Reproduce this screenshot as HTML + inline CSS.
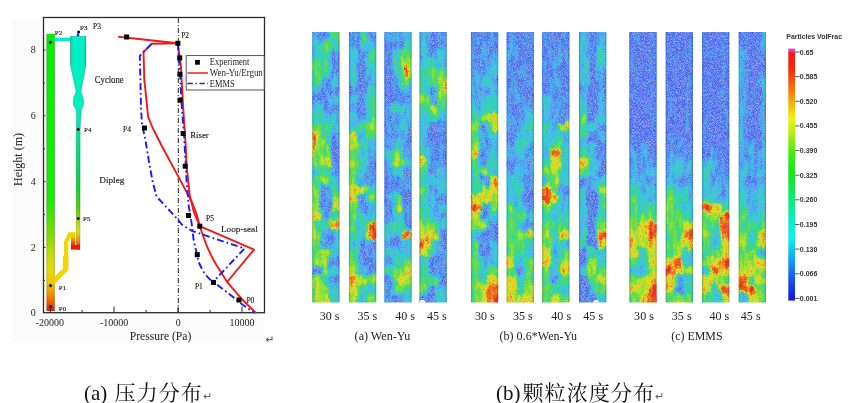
<!DOCTYPE html>
<html><head><meta charset="utf-8"><title>figure</title>
<style>
html,body{margin:0;padding:0;background:#fff;}
body{width:850px;height:403px;overflow:hidden;position:relative;}
svg{position:absolute;left:0;top:0;}
.cap{position:absolute;font-family:"Liberation Serif","Noto Serif CJK SC","Noto Sans CJK SC",serif;font-size:21px;color:#111;white-space:nowrap;line-height:1;}
.cj{letter-spacing:1.1px;margin-left:2px;}
.ret{font-family:"Liberation Sans",sans-serif;font-size:11px;color:#666;}
</style></head>
<body>
<svg width="850" height="403" viewBox="0 0 850 403">
<g id="plot">
<rect x="12" y="20" width="253" height="322" fill="#fbfbfb"/>
<rect x="43.5" y="17.5" width="221" height="295.2" fill="#fff"/>
<defs>
<linearGradient id="gRiser" x1="0" y1="34" x2="0" y2="311" gradientUnits="userSpaceOnUse">
<stop offset="0" stop-color="#00f000"/>
<stop offset="0.6" stop-color="#18ec00"/>
<stop offset="0.708" stop-color="#70dc00"/>
<stop offset="0.787" stop-color="#b8dc00"/>
<stop offset="0.856" stop-color="#e6dc00"/>
<stop offset="0.9" stop-color="#f0c400"/>
<stop offset="0.942" stop-color="#f08c00"/>
<stop offset="0.978" stop-color="#f04800"/>
<stop offset="1" stop-color="#e81800"/>
</linearGradient>
<linearGradient id="gEdgeH" x1="0" y1="0" x2="1" y2="0">
<stop offset="0" stop-color="#000" stop-opacity="0.3"/>
<stop offset="0.12" stop-color="#000" stop-opacity="0.05"/>
<stop offset="0.2" stop-color="#000" stop-opacity="0"/>
<stop offset="0.82" stop-color="#000" stop-opacity="0"/>
<stop offset="0.9" stop-color="#000" stop-opacity="0.06"/>
<stop offset="1" stop-color="#000" stop-opacity="0.3"/>
</linearGradient>
<linearGradient id="gDip" x1="0" y1="36" x2="0" y2="249.4" gradientUnits="userSpaceOnUse">
<stop offset="0" stop-color="#00f0c8"/>
<stop offset="0.347" stop-color="#00eec0"/>
<stop offset="0.44" stop-color="#00e4a4"/>
<stop offset="0.58" stop-color="#00d870"/>
<stop offset="0.72" stop-color="#08d830"/>
<stop offset="0.80" stop-color="#40d800"/>
<stop offset="0.85" stop-color="#80dc00"/>
<stop offset="0.89" stop-color="#c0dc00"/>
<stop offset="0.923" stop-color="#eadc00"/>
<stop offset="0.96" stop-color="#f09000"/>
<stop offset="0.984" stop-color="#f04000"/>
<stop offset="1" stop-color="#e81800"/>
</linearGradient>
<linearGradient id="gLeg" x1="0" y1="232" x2="0" y2="249.4" gradientUnits="userSpaceOnUse">
<stop offset="0" stop-color="#f4dc00"/>
<stop offset="0.35" stop-color="#f0b000"/>
<stop offset="0.7" stop-color="#f03a00"/>
<stop offset="1" stop-color="#e81400"/>
</linearGradient>
</defs>
<!-- apparatus -->
<rect x="46.6" y="34" width="8" height="277" fill="url(#gRiser)"/>
<rect x="46.6" y="34" width="8" height="277" fill="url(#gEdgeH)"/>
<rect x="54.4" y="37.6" width="16.2" height="3.5" fill="#00eec8"/>
<path d="M70.4 36.2 L86 36.2 L86 65.4 L81 91.5 C81.5 94 83.8 97 83.8 101.7 C83.8 106.5 81.6 108 81.4 110 L80.7 119 L80.2 129 L80 249.4 L76.2 249.4 L76.2 129 L76.5 119 L76.2 110 C75.8 108 73.1 106.5 73.1 101.7 C73.1 97 75.5 94 76 91.5 L70.4 65.4 Z" fill="url(#gDip)" stroke="#000" stroke-opacity="0.22" stroke-width="0.8"/>
<rect x="70.4" y="36.2" width="15.6" height="29" fill="url(#gEdgeH)" opacity="0.6"/>
<rect x="76.8" y="33.6" width="2.4" height="2.8" fill="#1030e0"/>
<!-- loop seal -->
<path d="M66.1 262 L66.1 242 L69.8 234.4 L73 234.4 L73 247" fill="none" stroke="#f2d600" stroke-width="4.2" stroke-linejoin="miter"/>
<rect x="71" y="236" width="4.1" height="13.4" fill="url(#gLeg)"/>
<rect x="71" y="245" width="9" height="4.4" fill="#ec1800"/>
<path d="M62.9 256 L68.4 256 L68.4 270 L54.4 284.4 L54.4 276.8 L62.9 268.4 Z" fill="#f2d600"/>
<!-- dots -->
<g fill="#000">
<circle cx="50.4" cy="42.3" r="1.55"/>
<circle cx="78.6" cy="32" r="1.55"/>
<circle cx="78.2" cy="129.5" r="1.45"/>
<circle cx="78.2" cy="218.6" r="1.45"/>
<circle cx="50.5" cy="285.6" r="1.55"/>
<circle cx="50.6" cy="306.5" r="1.55"/>
</g>
<!-- frame -->
<rect x="43.5" y="17.5" width="221" height="295.2" fill="none" stroke="#2a2a2a" stroke-width="1.3"/>
<!-- ticks -->
<g stroke="#2a2a2a" stroke-width="1">
<path d="M50.3 312.5 v-6 M114 312.5 v-6 M178 312.5 v-6 M242 312.5 v-6 M82.1 312.5 v-2.5 M146.1 312.5 v-2.5 M210.1 312.5 v-2.5"/>
<path d="M43.5 50 h2 M43.5 115.8 h2 M43.5 181.6 h2 M43.5 247.4 h2 M43.5 83 h1.5 M43.5 148.8 h1.5 M43.5 214.6 h1.5 M43.5 280.3 h1.5"/>
</g>
<!-- zero dash-dot -->
<line x1="178.3" y1="18" x2="178.3" y2="312" stroke="#222" stroke-width="1" stroke-dasharray="5 2 1 2"/>
<!-- red model -->
<g fill="none" stroke="#f41818" stroke-width="1.9" stroke-linejoin="round">
<path d="M118.2 36.8 L177.8 43.3"/>
<path d="M177.8 43.3 L151.7 43.8 L143.5 52 L144.3 80 L145.4 90 L146.9 104.9 L148.1 116.8 L152.5 127.5 L161.3 145 L177.8 175.6 L191.9 202 L196.5 214 L199.8 226.2 L254 249.6 L227.1 282"/>
<path d="M177.8 43.3 L180.9 66 L183 105 L185.6 144.2 L186.6 166 L189.8 195.6 L194 212.5 L199.8 226.2 C203 236 206 245 209.7 252.2 C213 260 217 266 220.9 272 L227.1 281.9 L242 299.3 L256 313"/>
</g>
<!-- blue model -->
<g fill="none" stroke="#1a1aff" stroke-width="1.9" stroke-dasharray="7 3 1.7 3" stroke-linejoin="round">
<path d="M151.5 43.8 L139.8 55.8 L140.4 80 L141 108 L142 124 L145.4 140 L149.1 162.3 L152.3 180 L156.5 196.5 L178.5 220.2 L181.9 224.7 L192.4 231.1 L244.5 248.5 L213.5 281.5"/>
<path d="M177.8 43.3 L179.5 66 L181.7 105 L184.3 139 L186.6 180.9 L188.8 206.2 L191.9 225.2 L193.6 239.8 L198.6 262 C203 272 208 279 213.5 281.9 L229.6 294.3 L242 304.2 L254.3 313"/>
</g>
<!-- experiment squares -->
<g fill="#000">
<rect x="124.1" y="34.5" width="5" height="5"/>
<rect x="175.4" y="40.8" width="5" height="5"/>
<rect x="177.2" y="55.4" width="5" height="5"/>
<rect x="177.4" y="71.7" width="5" height="5"/>
<rect x="177.6" y="97.6" width="5" height="5"/>
<rect x="180.6" y="131" width="5" height="5"/>
<rect x="142" y="125.5" width="5" height="5"/>
<rect x="182.7" y="163.7" width="5" height="5"/>
<rect x="186" y="213" width="5" height="5"/>
<rect x="197.3" y="223.7" width="5" height="5"/>
<rect x="194.8" y="252.2" width="5" height="5"/>
<rect x="211" y="279.9" width="5" height="5"/>
<rect x="236.5" y="297.5" width="5" height="5"/>
</g>
<!-- legend -->
<rect x="186.2" y="55.6" width="78" height="34.4" fill="#fff" stroke="#444" stroke-width="0.9"/>
<rect x="195.1" y="59.9" width="4.8" height="4.8" fill="#000"/>
<line x1="187.4" y1="73" x2="207.9" y2="73" stroke="#f01c1c" stroke-width="1.5"/>
<line x1="187.4" y1="83.5" x2="208" y2="83.5" stroke="#1c28f0" stroke-width="1.5" stroke-dasharray="5.5 2.5 1.5 2.5"/>
<g font-family="Liberation Serif, serif" fill="#222">
<text x="209.8" y="65.2" font-size="9.6" textLength="39.7" lengthAdjust="spacingAndGlyphs">Experiment</text>
<text x="209.8" y="76.2" font-size="9.6" textLength="53" lengthAdjust="spacingAndGlyphs">Wen-Yu/Ergun</text>
<text x="209.8" y="86.8" font-size="9.6" textLength="24.8" lengthAdjust="spacingAndGlyphs">EMMS</text>
</g>
<!-- labels in plot -->
<g font-family="Liberation Serif, serif" fill="#222" stroke="#222" stroke-width="0.15">
<text x="54.8" y="34.6" font-size="7">P2</text>
<text x="80" y="29.9" font-size="7">P3</text>
<text x="93" y="28.9" font-size="7.5">P3</text>
<text x="181.2" y="38.2" font-size="7.5">P2</text>
<text x="94.8" y="83.2" font-size="9.6" textLength="28.8" lengthAdjust="spacingAndGlyphs">Cyclone</text>
<text x="84" y="132.1" font-size="7">P4</text>
<text x="123" y="131.5" font-size="7.5">P4</text>
<text x="190.2" y="138.1" font-size="9.2" textLength="18.6" lengthAdjust="spacingAndGlyphs">Riser</text>
<text x="99.3" y="183" font-size="9.2">Dipleg</text>
<text x="83" y="221.2" font-size="7">P5</text>
<text x="206" y="221" font-size="7.5">P5</text>
<text x="221" y="232.3" font-size="9.2">Loop-seal</text>
<text x="58.8" y="290" font-size="7">P1</text>
<text x="194.9" y="289.4" font-size="7.5">P1</text>
<text x="58.8" y="311" font-size="7">P0</text>
<text x="246.4" y="303" font-size="7.5">P0</text>
</g>
<!-- axis labels -->
<g font-family="Liberation Serif, serif" fill="#222" font-size="10">
<text x="33.2" y="316" text-anchor="middle">0</text>
<text x="33.2" y="250.6" text-anchor="middle">2</text>
<text x="33.2" y="184.8" text-anchor="middle">4</text>
<text x="33.2" y="119" text-anchor="middle">6</text>
<text x="33.2" y="53.2" text-anchor="middle">8</text>
<text x="49.8" y="325.6" text-anchor="middle">-20000</text>
<text x="114.2" y="325.6" text-anchor="middle">-10000</text>
<text x="178.2" y="325.6" text-anchor="middle">0</text>
<text x="242" y="325.6" text-anchor="middle">10000</text>
<text x="160.5" y="339.6" text-anchor="middle" font-size="11.6">Pressure (Pa)</text>
<text transform="translate(22 159.5) rotate(-90)" text-anchor="middle" font-size="12">Height (m)</text>
</g>
<text x="265.6" y="342.6" font-family="DejaVu Sans, sans-serif" font-size="10.5" font-weight="bold" fill="#666">↵</text>
</g>

<defs>
<filter id="nb" x="-50%" y="-50%" width="200%" height="200%"><feGaussianBlur stdDeviation="0.7"/></filter>
<clipPath id="sc"><rect width="27.4" height="270.5"/></clipPath>
<linearGradient id="edg" x1="0" y1="0" x2="1" y2="0"><stop offset="0" stop-color="#102070" stop-opacity="0.3"/><stop offset="0.07" stop-color="#102070" stop-opacity="0"/><stop offset="0.93" stop-color="#102070" stop-opacity="0"/><stop offset="1" stop-color="#102070" stop-opacity="0.3"/></linearGradient>
<filter id="cf0" x="-40%" y="-4%" width="180%" height="108%" color-interpolation-filters="sRGB">
<feGaussianBlur in="SourceGraphic" stdDeviation="1.6" result="b0"/>
<feTurbulence type="fractalNoise" baseFrequency="0.14 0.05" numOctaves="2" seed="11" result="t"/>
<feDisplacementMap in="b0" in2="t" scale="10" xChannelSelector="R" yChannelSelector="G" result="d"/>
<feTurbulence type="fractalNoise" baseFrequency="0.5" numOctaves="1" seed="16" result="t2"/>
<feDisplacementMap in="d" in2="t2" scale="4" xChannelSelector="G" yChannelSelector="R" result="d2"/>
<feTurbulence type="fractalNoise" baseFrequency="0.7" numOctaves="1" seed="20" result="t3"/>
<feColorMatrix in="t3" type="matrix" values="1 0 0 0 0  1 0 0 0 0  1 0 0 0 0  0 0 0 0 1" result="n"/>
<feTurbulence type="fractalNoise" baseFrequency="0.25 0.07" numOctaves="2" seed="28" result="t5"/>
<feColorMatrix in="t5" type="matrix" values="1 0 0 0 0  1 0 0 0 0  1 0 0 0 0  0 0 0 0 1" result="n5"/>
<feComposite in="d2" in2="n" operator="arithmetic" k1="0" k2="1" k3="0.22" k4="-0.11" result="f0"/>
<feComposite in="f0" in2="n5" operator="arithmetic" k1="0" k2="1" k3="0.38" k4="-0.19" result="f"/>
<feGaussianBlur in="f" stdDeviation="0.35" result="fb"/>
<feComponentTransfer in="fb" result="col">
<feFuncR type="table" tableValues="0.306 0.243 0.243 0.204 0.204 0.353 0.647 0.910 0.941 0.910 0.886"/>
<feFuncG type="table" tableValues="0.384 0.416 0.627 0.784 0.831 0.863 0.886 0.863 0.490 0.243 0.165"/>
<feFuncB type="table" tableValues="0.925 0.925 0.925 0.886 0.647 0.333 0.188 0.157 0.137 0.137 0.137"/>
<feFuncA type="linear" slope="0" intercept="1"/>
</feComponentTransfer>
<feTurbulence type="fractalNoise" baseFrequency="1.45" numOctaves="1" seed="24" result="t4"/>
<feColorMatrix in="t4" type="matrix" values="0 0 0 0 0.66  0 0 0 0 0.72  0 0 0 0 0.96  2.5 0 0 0 -0.95" result="sp0"/>
<feGaussianBlur in="sp0" stdDeviation="0.5" result="sp"/>
<feColorMatrix in="f" type="matrix" values="0 0 0 0 0  0 0 0 0 0  0 0 0 0 0  -3.2 0 0 0 1.3" result="am"/>
<feComposite in="sp" in2="am" operator="in" result="spm"/>
<feMerge result="mg"><feMergeNode in="col"/><feMergeNode in="spm"/></feMerge>
<feGaussianBlur in="mg" stdDeviation="0.4"/>
</filter>
<filter id="cf1" x="-40%" y="-4%" width="180%" height="108%" color-interpolation-filters="sRGB">
<feGaussianBlur in="SourceGraphic" stdDeviation="1.6" result="b0"/>
<feTurbulence type="fractalNoise" baseFrequency="0.14 0.05" numOctaves="2" seed="23" result="t"/>
<feDisplacementMap in="b0" in2="t" scale="10" xChannelSelector="R" yChannelSelector="G" result="d"/>
<feTurbulence type="fractalNoise" baseFrequency="0.5" numOctaves="1" seed="28" result="t2"/>
<feDisplacementMap in="d" in2="t2" scale="4" xChannelSelector="G" yChannelSelector="R" result="d2"/>
<feTurbulence type="fractalNoise" baseFrequency="0.7" numOctaves="1" seed="32" result="t3"/>
<feColorMatrix in="t3" type="matrix" values="1 0 0 0 0  1 0 0 0 0  1 0 0 0 0  0 0 0 0 1" result="n"/>
<feTurbulence type="fractalNoise" baseFrequency="0.25 0.07" numOctaves="2" seed="40" result="t5"/>
<feColorMatrix in="t5" type="matrix" values="1 0 0 0 0  1 0 0 0 0  1 0 0 0 0  0 0 0 0 1" result="n5"/>
<feComposite in="d2" in2="n" operator="arithmetic" k1="0" k2="1" k3="0.22" k4="-0.11" result="f0"/>
<feComposite in="f0" in2="n5" operator="arithmetic" k1="0" k2="1" k3="0.38" k4="-0.19" result="f"/>
<feGaussianBlur in="f" stdDeviation="0.35" result="fb"/>
<feComponentTransfer in="fb" result="col">
<feFuncR type="table" tableValues="0.306 0.243 0.243 0.204 0.204 0.353 0.647 0.910 0.941 0.910 0.886"/>
<feFuncG type="table" tableValues="0.384 0.416 0.627 0.784 0.831 0.863 0.886 0.863 0.490 0.243 0.165"/>
<feFuncB type="table" tableValues="0.925 0.925 0.925 0.886 0.647 0.333 0.188 0.157 0.137 0.137 0.137"/>
<feFuncA type="linear" slope="0" intercept="1"/>
</feComponentTransfer>
<feTurbulence type="fractalNoise" baseFrequency="1.45" numOctaves="1" seed="36" result="t4"/>
<feColorMatrix in="t4" type="matrix" values="0 0 0 0 0.66  0 0 0 0 0.72  0 0 0 0 0.96  2.5 0 0 0 -0.95" result="sp0"/>
<feGaussianBlur in="sp0" stdDeviation="0.5" result="sp"/>
<feColorMatrix in="f" type="matrix" values="0 0 0 0 0  0 0 0 0 0  0 0 0 0 0  -3.2 0 0 0 1.3" result="am"/>
<feComposite in="sp" in2="am" operator="in" result="spm"/>
<feMerge result="mg"><feMergeNode in="col"/><feMergeNode in="spm"/></feMerge>
<feGaussianBlur in="mg" stdDeviation="0.4"/>
</filter>
<filter id="cf2" x="-40%" y="-4%" width="180%" height="108%" color-interpolation-filters="sRGB">
<feGaussianBlur in="SourceGraphic" stdDeviation="1.6" result="b0"/>
<feTurbulence type="fractalNoise" baseFrequency="0.14 0.05" numOctaves="2" seed="37" result="t"/>
<feDisplacementMap in="b0" in2="t" scale="10" xChannelSelector="R" yChannelSelector="G" result="d"/>
<feTurbulence type="fractalNoise" baseFrequency="0.5" numOctaves="1" seed="42" result="t2"/>
<feDisplacementMap in="d" in2="t2" scale="4" xChannelSelector="G" yChannelSelector="R" result="d2"/>
<feTurbulence type="fractalNoise" baseFrequency="0.7" numOctaves="1" seed="46" result="t3"/>
<feColorMatrix in="t3" type="matrix" values="1 0 0 0 0  1 0 0 0 0  1 0 0 0 0  0 0 0 0 1" result="n"/>
<feTurbulence type="fractalNoise" baseFrequency="0.25 0.07" numOctaves="2" seed="54" result="t5"/>
<feColorMatrix in="t5" type="matrix" values="1 0 0 0 0  1 0 0 0 0  1 0 0 0 0  0 0 0 0 1" result="n5"/>
<feComposite in="d2" in2="n" operator="arithmetic" k1="0" k2="1" k3="0.22" k4="-0.11" result="f0"/>
<feComposite in="f0" in2="n5" operator="arithmetic" k1="0" k2="1" k3="0.38" k4="-0.19" result="f"/>
<feGaussianBlur in="f" stdDeviation="0.35" result="fb"/>
<feComponentTransfer in="fb" result="col">
<feFuncR type="table" tableValues="0.306 0.243 0.243 0.204 0.204 0.353 0.647 0.910 0.941 0.910 0.886"/>
<feFuncG type="table" tableValues="0.384 0.416 0.627 0.784 0.831 0.863 0.886 0.863 0.490 0.243 0.165"/>
<feFuncB type="table" tableValues="0.925 0.925 0.925 0.886 0.647 0.333 0.188 0.157 0.137 0.137 0.137"/>
<feFuncA type="linear" slope="0" intercept="1"/>
</feComponentTransfer>
<feTurbulence type="fractalNoise" baseFrequency="1.45" numOctaves="1" seed="50" result="t4"/>
<feColorMatrix in="t4" type="matrix" values="0 0 0 0 0.66  0 0 0 0 0.72  0 0 0 0 0.96  2.5 0 0 0 -0.95" result="sp0"/>
<feGaussianBlur in="sp0" stdDeviation="0.5" result="sp"/>
<feColorMatrix in="f" type="matrix" values="0 0 0 0 0  0 0 0 0 0  0 0 0 0 0  -3.2 0 0 0 1.3" result="am"/>
<feComposite in="sp" in2="am" operator="in" result="spm"/>
<feMerge result="mg"><feMergeNode in="col"/><feMergeNode in="spm"/></feMerge>
<feGaussianBlur in="mg" stdDeviation="0.4"/>
</filter>
<filter id="cf3" x="-40%" y="-4%" width="180%" height="108%" color-interpolation-filters="sRGB">
<feGaussianBlur in="SourceGraphic" stdDeviation="1.6" result="b0"/>
<feTurbulence type="fractalNoise" baseFrequency="0.14 0.05" numOctaves="2" seed="41" result="t"/>
<feDisplacementMap in="b0" in2="t" scale="10" xChannelSelector="R" yChannelSelector="G" result="d"/>
<feTurbulence type="fractalNoise" baseFrequency="0.5" numOctaves="1" seed="46" result="t2"/>
<feDisplacementMap in="d" in2="t2" scale="4" xChannelSelector="G" yChannelSelector="R" result="d2"/>
<feTurbulence type="fractalNoise" baseFrequency="0.7" numOctaves="1" seed="50" result="t3"/>
<feColorMatrix in="t3" type="matrix" values="1 0 0 0 0  1 0 0 0 0  1 0 0 0 0  0 0 0 0 1" result="n"/>
<feTurbulence type="fractalNoise" baseFrequency="0.25 0.07" numOctaves="2" seed="58" result="t5"/>
<feColorMatrix in="t5" type="matrix" values="1 0 0 0 0  1 0 0 0 0  1 0 0 0 0  0 0 0 0 1" result="n5"/>
<feComposite in="d2" in2="n" operator="arithmetic" k1="0" k2="1" k3="0.22" k4="-0.11" result="f0"/>
<feComposite in="f0" in2="n5" operator="arithmetic" k1="0" k2="1" k3="0.38" k4="-0.19" result="f"/>
<feGaussianBlur in="f" stdDeviation="0.35" result="fb"/>
<feComponentTransfer in="fb" result="col">
<feFuncR type="table" tableValues="0.306 0.243 0.243 0.204 0.204 0.353 0.647 0.910 0.941 0.910 0.886"/>
<feFuncG type="table" tableValues="0.384 0.416 0.627 0.784 0.831 0.863 0.886 0.863 0.490 0.243 0.165"/>
<feFuncB type="table" tableValues="0.925 0.925 0.925 0.886 0.647 0.333 0.188 0.157 0.137 0.137 0.137"/>
<feFuncA type="linear" slope="0" intercept="1"/>
</feComponentTransfer>
<feTurbulence type="fractalNoise" baseFrequency="1.45" numOctaves="1" seed="54" result="t4"/>
<feColorMatrix in="t4" type="matrix" values="0 0 0 0 0.66  0 0 0 0 0.72  0 0 0 0 0.96  2.5 0 0 0 -0.95" result="sp0"/>
<feGaussianBlur in="sp0" stdDeviation="0.5" result="sp"/>
<feColorMatrix in="f" type="matrix" values="0 0 0 0 0  0 0 0 0 0  0 0 0 0 0  -3.2 0 0 0 1.3" result="am"/>
<feComposite in="sp" in2="am" operator="in" result="spm"/>
<feMerge result="mg"><feMergeNode in="col"/><feMergeNode in="spm"/></feMerge>
<feGaussianBlur in="mg" stdDeviation="0.4"/>
</filter>
<filter id="cf4" x="-40%" y="-4%" width="180%" height="108%" color-interpolation-filters="sRGB">
<feGaussianBlur in="SourceGraphic" stdDeviation="1.6" result="b0"/>
<feTurbulence type="fractalNoise" baseFrequency="0.14 0.05" numOctaves="2" seed="53" result="t"/>
<feDisplacementMap in="b0" in2="t" scale="10" xChannelSelector="R" yChannelSelector="G" result="d"/>
<feTurbulence type="fractalNoise" baseFrequency="0.5" numOctaves="1" seed="58" result="t2"/>
<feDisplacementMap in="d" in2="t2" scale="4" xChannelSelector="G" yChannelSelector="R" result="d2"/>
<feTurbulence type="fractalNoise" baseFrequency="0.7" numOctaves="1" seed="62" result="t3"/>
<feColorMatrix in="t3" type="matrix" values="1 0 0 0 0  1 0 0 0 0  1 0 0 0 0  0 0 0 0 1" result="n"/>
<feTurbulence type="fractalNoise" baseFrequency="0.25 0.07" numOctaves="2" seed="70" result="t5"/>
<feColorMatrix in="t5" type="matrix" values="1 0 0 0 0  1 0 0 0 0  1 0 0 0 0  0 0 0 0 1" result="n5"/>
<feComposite in="d2" in2="n" operator="arithmetic" k1="0" k2="1" k3="0.22" k4="-0.11" result="f0"/>
<feComposite in="f0" in2="n5" operator="arithmetic" k1="0" k2="1" k3="0.38" k4="-0.19" result="f"/>
<feGaussianBlur in="f" stdDeviation="0.35" result="fb"/>
<feComponentTransfer in="fb" result="col">
<feFuncR type="table" tableValues="0.306 0.243 0.243 0.204 0.204 0.353 0.647 0.910 0.941 0.910 0.886"/>
<feFuncG type="table" tableValues="0.384 0.416 0.627 0.784 0.831 0.863 0.886 0.863 0.490 0.243 0.165"/>
<feFuncB type="table" tableValues="0.925 0.925 0.925 0.886 0.647 0.333 0.188 0.157 0.137 0.137 0.137"/>
<feFuncA type="linear" slope="0" intercept="1"/>
</feComponentTransfer>
<feTurbulence type="fractalNoise" baseFrequency="1.45" numOctaves="1" seed="66" result="t4"/>
<feColorMatrix in="t4" type="matrix" values="0 0 0 0 0.66  0 0 0 0 0.72  0 0 0 0 0.96  2.5 0 0 0 -0.95" result="sp0"/>
<feGaussianBlur in="sp0" stdDeviation="0.5" result="sp"/>
<feColorMatrix in="f" type="matrix" values="0 0 0 0 0  0 0 0 0 0  0 0 0 0 0  -3.2 0 0 0 1.3" result="am"/>
<feComposite in="sp" in2="am" operator="in" result="spm"/>
<feMerge result="mg"><feMergeNode in="col"/><feMergeNode in="spm"/></feMerge>
<feGaussianBlur in="mg" stdDeviation="0.4"/>
</filter>
<filter id="cf5" x="-40%" y="-4%" width="180%" height="108%" color-interpolation-filters="sRGB">
<feGaussianBlur in="SourceGraphic" stdDeviation="1.6" result="b0"/>
<feTurbulence type="fractalNoise" baseFrequency="0.14 0.05" numOctaves="2" seed="67" result="t"/>
<feDisplacementMap in="b0" in2="t" scale="10" xChannelSelector="R" yChannelSelector="G" result="d"/>
<feTurbulence type="fractalNoise" baseFrequency="0.5" numOctaves="1" seed="72" result="t2"/>
<feDisplacementMap in="d" in2="t2" scale="4" xChannelSelector="G" yChannelSelector="R" result="d2"/>
<feTurbulence type="fractalNoise" baseFrequency="0.7" numOctaves="1" seed="76" result="t3"/>
<feColorMatrix in="t3" type="matrix" values="1 0 0 0 0  1 0 0 0 0  1 0 0 0 0  0 0 0 0 1" result="n"/>
<feTurbulence type="fractalNoise" baseFrequency="0.25 0.07" numOctaves="2" seed="84" result="t5"/>
<feColorMatrix in="t5" type="matrix" values="1 0 0 0 0  1 0 0 0 0  1 0 0 0 0  0 0 0 0 1" result="n5"/>
<feComposite in="d2" in2="n" operator="arithmetic" k1="0" k2="1" k3="0.22" k4="-0.11" result="f0"/>
<feComposite in="f0" in2="n5" operator="arithmetic" k1="0" k2="1" k3="0.38" k4="-0.19" result="f"/>
<feGaussianBlur in="f" stdDeviation="0.35" result="fb"/>
<feComponentTransfer in="fb" result="col">
<feFuncR type="table" tableValues="0.306 0.243 0.243 0.204 0.204 0.353 0.647 0.910 0.941 0.910 0.886"/>
<feFuncG type="table" tableValues="0.384 0.416 0.627 0.784 0.831 0.863 0.886 0.863 0.490 0.243 0.165"/>
<feFuncB type="table" tableValues="0.925 0.925 0.925 0.886 0.647 0.333 0.188 0.157 0.137 0.137 0.137"/>
<feFuncA type="linear" slope="0" intercept="1"/>
</feComponentTransfer>
<feTurbulence type="fractalNoise" baseFrequency="1.45" numOctaves="1" seed="80" result="t4"/>
<feColorMatrix in="t4" type="matrix" values="0 0 0 0 0.66  0 0 0 0 0.72  0 0 0 0 0.96  2.5 0 0 0 -0.95" result="sp0"/>
<feGaussianBlur in="sp0" stdDeviation="0.5" result="sp"/>
<feColorMatrix in="f" type="matrix" values="0 0 0 0 0  0 0 0 0 0  0 0 0 0 0  -3.2 0 0 0 1.3" result="am"/>
<feComposite in="sp" in2="am" operator="in" result="spm"/>
<feMerge result="mg"><feMergeNode in="col"/><feMergeNode in="spm"/></feMerge>
<feGaussianBlur in="mg" stdDeviation="0.4"/>
</filter>
<filter id="cf6" x="-40%" y="-4%" width="180%" height="108%" color-interpolation-filters="sRGB">
<feGaussianBlur in="SourceGraphic" stdDeviation="1.6" result="b0"/>
<feTurbulence type="fractalNoise" baseFrequency="0.14 0.05" numOctaves="2" seed="71" result="t"/>
<feDisplacementMap in="b0" in2="t" scale="10" xChannelSelector="R" yChannelSelector="G" result="d"/>
<feTurbulence type="fractalNoise" baseFrequency="0.5" numOctaves="1" seed="76" result="t2"/>
<feDisplacementMap in="d" in2="t2" scale="4" xChannelSelector="G" yChannelSelector="R" result="d2"/>
<feTurbulence type="fractalNoise" baseFrequency="0.7" numOctaves="1" seed="80" result="t3"/>
<feColorMatrix in="t3" type="matrix" values="1 0 0 0 0  1 0 0 0 0  1 0 0 0 0  0 0 0 0 1" result="n"/>
<feTurbulence type="fractalNoise" baseFrequency="0.25 0.07" numOctaves="2" seed="88" result="t5"/>
<feColorMatrix in="t5" type="matrix" values="1 0 0 0 0  1 0 0 0 0  1 0 0 0 0  0 0 0 0 1" result="n5"/>
<feComposite in="d2" in2="n" operator="arithmetic" k1="0" k2="1" k3="0.22" k4="-0.11" result="f0"/>
<feComposite in="f0" in2="n5" operator="arithmetic" k1="0" k2="1" k3="0.38" k4="-0.19" result="f"/>
<feGaussianBlur in="f" stdDeviation="0.35" result="fb"/>
<feComponentTransfer in="fb" result="col">
<feFuncR type="table" tableValues="0.306 0.243 0.243 0.204 0.204 0.353 0.647 0.910 0.941 0.910 0.886"/>
<feFuncG type="table" tableValues="0.384 0.416 0.627 0.784 0.831 0.863 0.886 0.863 0.490 0.243 0.165"/>
<feFuncB type="table" tableValues="0.925 0.925 0.925 0.886 0.647 0.333 0.188 0.157 0.137 0.137 0.137"/>
<feFuncA type="linear" slope="0" intercept="1"/>
</feComponentTransfer>
<feTurbulence type="fractalNoise" baseFrequency="1.45" numOctaves="1" seed="84" result="t4"/>
<feColorMatrix in="t4" type="matrix" values="0 0 0 0 0.66  0 0 0 0 0.72  0 0 0 0 0.96  2.5 0 0 0 -0.95" result="sp0"/>
<feGaussianBlur in="sp0" stdDeviation="0.5" result="sp"/>
<feColorMatrix in="f" type="matrix" values="0 0 0 0 0  0 0 0 0 0  0 0 0 0 0  -3.2 0 0 0 1.3" result="am"/>
<feComposite in="sp" in2="am" operator="in" result="spm"/>
<feMerge result="mg"><feMergeNode in="col"/><feMergeNode in="spm"/></feMerge>
<feGaussianBlur in="mg" stdDeviation="0.4"/>
</filter>
<filter id="cf7" x="-40%" y="-4%" width="180%" height="108%" color-interpolation-filters="sRGB">
<feGaussianBlur in="SourceGraphic" stdDeviation="1.6" result="b0"/>
<feTurbulence type="fractalNoise" baseFrequency="0.14 0.05" numOctaves="2" seed="83" result="t"/>
<feDisplacementMap in="b0" in2="t" scale="10" xChannelSelector="R" yChannelSelector="G" result="d"/>
<feTurbulence type="fractalNoise" baseFrequency="0.5" numOctaves="1" seed="88" result="t2"/>
<feDisplacementMap in="d" in2="t2" scale="4" xChannelSelector="G" yChannelSelector="R" result="d2"/>
<feTurbulence type="fractalNoise" baseFrequency="0.7" numOctaves="1" seed="92" result="t3"/>
<feColorMatrix in="t3" type="matrix" values="1 0 0 0 0  1 0 0 0 0  1 0 0 0 0  0 0 0 0 1" result="n"/>
<feTurbulence type="fractalNoise" baseFrequency="0.25 0.07" numOctaves="2" seed="100" result="t5"/>
<feColorMatrix in="t5" type="matrix" values="1 0 0 0 0  1 0 0 0 0  1 0 0 0 0  0 0 0 0 1" result="n5"/>
<feComposite in="d2" in2="n" operator="arithmetic" k1="0" k2="1" k3="0.22" k4="-0.11" result="f0"/>
<feComposite in="f0" in2="n5" operator="arithmetic" k1="0" k2="1" k3="0.38" k4="-0.19" result="f"/>
<feGaussianBlur in="f" stdDeviation="0.35" result="fb"/>
<feComponentTransfer in="fb" result="col">
<feFuncR type="table" tableValues="0.306 0.243 0.243 0.204 0.204 0.353 0.647 0.910 0.941 0.910 0.886"/>
<feFuncG type="table" tableValues="0.384 0.416 0.627 0.784 0.831 0.863 0.886 0.863 0.490 0.243 0.165"/>
<feFuncB type="table" tableValues="0.925 0.925 0.925 0.886 0.647 0.333 0.188 0.157 0.137 0.137 0.137"/>
<feFuncA type="linear" slope="0" intercept="1"/>
</feComponentTransfer>
<feTurbulence type="fractalNoise" baseFrequency="1.45" numOctaves="1" seed="96" result="t4"/>
<feColorMatrix in="t4" type="matrix" values="0 0 0 0 0.66  0 0 0 0 0.72  0 0 0 0 0.96  2.5 0 0 0 -0.95" result="sp0"/>
<feGaussianBlur in="sp0" stdDeviation="0.5" result="sp"/>
<feColorMatrix in="f" type="matrix" values="0 0 0 0 0  0 0 0 0 0  0 0 0 0 0  -3.2 0 0 0 1.3" result="am"/>
<feComposite in="sp" in2="am" operator="in" result="spm"/>
<feMerge result="mg"><feMergeNode in="col"/><feMergeNode in="spm"/></feMerge>
<feGaussianBlur in="mg" stdDeviation="0.4"/>
</filter>
<filter id="cf8" x="-40%" y="-4%" width="180%" height="108%" color-interpolation-filters="sRGB">
<feGaussianBlur in="SourceGraphic" stdDeviation="1.6" result="b0"/>
<feTurbulence type="fractalNoise" baseFrequency="0.14 0.05" numOctaves="2" seed="97" result="t"/>
<feDisplacementMap in="b0" in2="t" scale="10" xChannelSelector="R" yChannelSelector="G" result="d"/>
<feTurbulence type="fractalNoise" baseFrequency="0.5" numOctaves="1" seed="102" result="t2"/>
<feDisplacementMap in="d" in2="t2" scale="4" xChannelSelector="G" yChannelSelector="R" result="d2"/>
<feTurbulence type="fractalNoise" baseFrequency="0.7" numOctaves="1" seed="106" result="t3"/>
<feColorMatrix in="t3" type="matrix" values="1 0 0 0 0  1 0 0 0 0  1 0 0 0 0  0 0 0 0 1" result="n"/>
<feTurbulence type="fractalNoise" baseFrequency="0.25 0.07" numOctaves="2" seed="114" result="t5"/>
<feColorMatrix in="t5" type="matrix" values="1 0 0 0 0  1 0 0 0 0  1 0 0 0 0  0 0 0 0 1" result="n5"/>
<feComposite in="d2" in2="n" operator="arithmetic" k1="0" k2="1" k3="0.22" k4="-0.11" result="f0"/>
<feComposite in="f0" in2="n5" operator="arithmetic" k1="0" k2="1" k3="0.38" k4="-0.19" result="f"/>
<feGaussianBlur in="f" stdDeviation="0.35" result="fb"/>
<feComponentTransfer in="fb" result="col">
<feFuncR type="table" tableValues="0.306 0.243 0.243 0.204 0.204 0.353 0.647 0.910 0.941 0.910 0.886"/>
<feFuncG type="table" tableValues="0.384 0.416 0.627 0.784 0.831 0.863 0.886 0.863 0.490 0.243 0.165"/>
<feFuncB type="table" tableValues="0.925 0.925 0.925 0.886 0.647 0.333 0.188 0.157 0.137 0.137 0.137"/>
<feFuncA type="linear" slope="0" intercept="1"/>
</feComponentTransfer>
<feTurbulence type="fractalNoise" baseFrequency="1.45" numOctaves="1" seed="110" result="t4"/>
<feColorMatrix in="t4" type="matrix" values="0 0 0 0 0.66  0 0 0 0 0.72  0 0 0 0 0.96  2.5 0 0 0 -0.95" result="sp0"/>
<feGaussianBlur in="sp0" stdDeviation="0.5" result="sp"/>
<feColorMatrix in="f" type="matrix" values="0 0 0 0 0  0 0 0 0 0  0 0 0 0 0  -3.2 0 0 0 1.3" result="am"/>
<feComposite in="sp" in2="am" operator="in" result="spm"/>
<feMerge result="mg"><feMergeNode in="col"/><feMergeNode in="spm"/></feMerge>
<feGaussianBlur in="mg" stdDeviation="0.4"/>
</filter>
<filter id="cf9" x="-40%" y="-4%" width="180%" height="108%" color-interpolation-filters="sRGB">
<feGaussianBlur in="SourceGraphic" stdDeviation="1.6" result="b0"/>
<feTurbulence type="fractalNoise" baseFrequency="0.14 0.05" numOctaves="2" seed="101" result="t"/>
<feDisplacementMap in="b0" in2="t" scale="10" xChannelSelector="R" yChannelSelector="G" result="d"/>
<feTurbulence type="fractalNoise" baseFrequency="0.5" numOctaves="1" seed="106" result="t2"/>
<feDisplacementMap in="d" in2="t2" scale="4" xChannelSelector="G" yChannelSelector="R" result="d2"/>
<feTurbulence type="fractalNoise" baseFrequency="0.7" numOctaves="1" seed="110" result="t3"/>
<feColorMatrix in="t3" type="matrix" values="1 0 0 0 0  1 0 0 0 0  1 0 0 0 0  0 0 0 0 1" result="n"/>
<feTurbulence type="fractalNoise" baseFrequency="0.25 0.07" numOctaves="2" seed="118" result="t5"/>
<feColorMatrix in="t5" type="matrix" values="1 0 0 0 0  1 0 0 0 0  1 0 0 0 0  0 0 0 0 1" result="n5"/>
<feComposite in="d2" in2="n" operator="arithmetic" k1="0" k2="1" k3="0.22" k4="-0.11" result="f0"/>
<feComposite in="f0" in2="n5" operator="arithmetic" k1="0" k2="1" k3="0.38" k4="-0.19" result="f"/>
<feGaussianBlur in="f" stdDeviation="0.35" result="fb"/>
<feComponentTransfer in="fb" result="col">
<feFuncR type="table" tableValues="0.306 0.243 0.243 0.204 0.204 0.353 0.647 0.910 0.941 0.910 0.886"/>
<feFuncG type="table" tableValues="0.384 0.416 0.627 0.784 0.831 0.863 0.886 0.863 0.490 0.243 0.165"/>
<feFuncB type="table" tableValues="0.925 0.925 0.925 0.886 0.647 0.333 0.188 0.157 0.137 0.137 0.137"/>
<feFuncA type="linear" slope="0" intercept="1"/>
</feComponentTransfer>
<feTurbulence type="fractalNoise" baseFrequency="1.45" numOctaves="1" seed="114" result="t4"/>
<feColorMatrix in="t4" type="matrix" values="0 0 0 0 0.66  0 0 0 0 0.72  0 0 0 0 0.96  2.5 0 0 0 -0.95" result="sp0"/>
<feGaussianBlur in="sp0" stdDeviation="0.5" result="sp"/>
<feColorMatrix in="f" type="matrix" values="0 0 0 0 0  0 0 0 0 0  0 0 0 0 0  -3.2 0 0 0 1.3" result="am"/>
<feComposite in="sp" in2="am" operator="in" result="spm"/>
<feMerge result="mg"><feMergeNode in="col"/><feMergeNode in="spm"/></feMerge>
<feGaussianBlur in="mg" stdDeviation="0.4"/>
</filter>
<filter id="cf10" x="-40%" y="-4%" width="180%" height="108%" color-interpolation-filters="sRGB">
<feGaussianBlur in="SourceGraphic" stdDeviation="1.6" result="b0"/>
<feTurbulence type="fractalNoise" baseFrequency="0.14 0.05" numOctaves="2" seed="113" result="t"/>
<feDisplacementMap in="b0" in2="t" scale="10" xChannelSelector="R" yChannelSelector="G" result="d"/>
<feTurbulence type="fractalNoise" baseFrequency="0.5" numOctaves="1" seed="118" result="t2"/>
<feDisplacementMap in="d" in2="t2" scale="4" xChannelSelector="G" yChannelSelector="R" result="d2"/>
<feTurbulence type="fractalNoise" baseFrequency="0.7" numOctaves="1" seed="122" result="t3"/>
<feColorMatrix in="t3" type="matrix" values="1 0 0 0 0  1 0 0 0 0  1 0 0 0 0  0 0 0 0 1" result="n"/>
<feTurbulence type="fractalNoise" baseFrequency="0.25 0.07" numOctaves="2" seed="130" result="t5"/>
<feColorMatrix in="t5" type="matrix" values="1 0 0 0 0  1 0 0 0 0  1 0 0 0 0  0 0 0 0 1" result="n5"/>
<feComposite in="d2" in2="n" operator="arithmetic" k1="0" k2="1" k3="0.22" k4="-0.11" result="f0"/>
<feComposite in="f0" in2="n5" operator="arithmetic" k1="0" k2="1" k3="0.38" k4="-0.19" result="f"/>
<feGaussianBlur in="f" stdDeviation="0.35" result="fb"/>
<feComponentTransfer in="fb" result="col">
<feFuncR type="table" tableValues="0.306 0.243 0.243 0.204 0.204 0.353 0.647 0.910 0.941 0.910 0.886"/>
<feFuncG type="table" tableValues="0.384 0.416 0.627 0.784 0.831 0.863 0.886 0.863 0.490 0.243 0.165"/>
<feFuncB type="table" tableValues="0.925 0.925 0.925 0.886 0.647 0.333 0.188 0.157 0.137 0.137 0.137"/>
<feFuncA type="linear" slope="0" intercept="1"/>
</feComponentTransfer>
<feTurbulence type="fractalNoise" baseFrequency="1.45" numOctaves="1" seed="126" result="t4"/>
<feColorMatrix in="t4" type="matrix" values="0 0 0 0 0.66  0 0 0 0 0.72  0 0 0 0 0.96  2.5 0 0 0 -0.95" result="sp0"/>
<feGaussianBlur in="sp0" stdDeviation="0.5" result="sp"/>
<feColorMatrix in="f" type="matrix" values="0 0 0 0 0  0 0 0 0 0  0 0 0 0 0  -3.2 0 0 0 1.3" result="am"/>
<feComposite in="sp" in2="am" operator="in" result="spm"/>
<feMerge result="mg"><feMergeNode in="col"/><feMergeNode in="spm"/></feMerge>
<feGaussianBlur in="mg" stdDeviation="0.4"/>
</filter>
<filter id="cf11" x="-40%" y="-4%" width="180%" height="108%" color-interpolation-filters="sRGB">
<feGaussianBlur in="SourceGraphic" stdDeviation="1.6" result="b0"/>
<feTurbulence type="fractalNoise" baseFrequency="0.14 0.05" numOctaves="2" seed="127" result="t"/>
<feDisplacementMap in="b0" in2="t" scale="10" xChannelSelector="R" yChannelSelector="G" result="d"/>
<feTurbulence type="fractalNoise" baseFrequency="0.5" numOctaves="1" seed="132" result="t2"/>
<feDisplacementMap in="d" in2="t2" scale="4" xChannelSelector="G" yChannelSelector="R" result="d2"/>
<feTurbulence type="fractalNoise" baseFrequency="0.7" numOctaves="1" seed="136" result="t3"/>
<feColorMatrix in="t3" type="matrix" values="1 0 0 0 0  1 0 0 0 0  1 0 0 0 0  0 0 0 0 1" result="n"/>
<feTurbulence type="fractalNoise" baseFrequency="0.25 0.07" numOctaves="2" seed="144" result="t5"/>
<feColorMatrix in="t5" type="matrix" values="1 0 0 0 0  1 0 0 0 0  1 0 0 0 0  0 0 0 0 1" result="n5"/>
<feComposite in="d2" in2="n" operator="arithmetic" k1="0" k2="1" k3="0.22" k4="-0.11" result="f0"/>
<feComposite in="f0" in2="n5" operator="arithmetic" k1="0" k2="1" k3="0.38" k4="-0.19" result="f"/>
<feGaussianBlur in="f" stdDeviation="0.35" result="fb"/>
<feComponentTransfer in="fb" result="col">
<feFuncR type="table" tableValues="0.306 0.243 0.243 0.204 0.204 0.353 0.647 0.910 0.941 0.910 0.886"/>
<feFuncG type="table" tableValues="0.384 0.416 0.627 0.784 0.831 0.863 0.886 0.863 0.490 0.243 0.165"/>
<feFuncB type="table" tableValues="0.925 0.925 0.925 0.886 0.647 0.333 0.188 0.157 0.137 0.137 0.137"/>
<feFuncA type="linear" slope="0" intercept="1"/>
</feComponentTransfer>
<feTurbulence type="fractalNoise" baseFrequency="1.45" numOctaves="1" seed="140" result="t4"/>
<feColorMatrix in="t4" type="matrix" values="0 0 0 0 0.66  0 0 0 0 0.72  0 0 0 0 0.96  2.5 0 0 0 -0.95" result="sp0"/>
<feGaussianBlur in="sp0" stdDeviation="0.5" result="sp"/>
<feColorMatrix in="f" type="matrix" values="0 0 0 0 0  0 0 0 0 0  0 0 0 0 0  -3.2 0 0 0 1.3" result="am"/>
<feComposite in="sp" in2="am" operator="in" result="spm"/>
<feMerge result="mg"><feMergeNode in="col"/><feMergeNode in="spm"/></feMerge>
<feGaussianBlur in="mg" stdDeviation="0.4"/>
</filter>
</defs>
<g transform="translate(312.2 32.0)" clip-path="url(#sc)">
<g filter="url(#cf0)"><rect x="-8.00" y="-8.00" width="17.43" height="17.32" fill="#333333"/><rect x="9.13" y="-8.00" width="9.43" height="17.32" fill="#262626"/><rect x="18.27" y="-8.00" width="17.43" height="17.32" fill="#808080"/><rect x="-8.00" y="9.02" width="17.43" height="9.32" fill="#4c4c4c"/><rect x="9.13" y="9.02" width="9.43" height="9.32" fill="#808080"/><rect x="18.27" y="9.02" width="17.43" height="9.32" fill="#666666"/><rect x="-8.00" y="18.03" width="17.43" height="9.32" fill="#4c4c4c"/><rect x="9.13" y="18.03" width="9.43" height="9.32" fill="#666666"/><rect x="18.27" y="18.03" width="17.43" height="9.32" fill="#262626"/><rect x="-8.00" y="27.05" width="17.43" height="9.32" fill="#919191"/><rect x="9.13" y="27.05" width="9.43" height="9.32" fill="#666666"/><rect x="18.27" y="27.05" width="17.43" height="9.32" fill="#262626"/><rect x="-8.00" y="36.07" width="17.43" height="9.32" fill="#808080"/><rect x="9.13" y="36.07" width="9.43" height="9.32" fill="#666666"/><rect x="18.27" y="36.07" width="17.43" height="9.32" fill="#262626"/><rect x="-8.00" y="45.08" width="17.43" height="9.32" fill="#666666"/><rect x="9.13" y="45.08" width="9.43" height="9.32" fill="#262626"/><rect x="18.27" y="45.08" width="17.43" height="9.32" fill="#4c4c4c"/><rect x="-8.00" y="54.10" width="17.43" height="9.32" fill="#4c4c4c"/><rect x="9.13" y="54.10" width="9.43" height="9.32" fill="#262626"/><rect x="18.27" y="54.10" width="17.43" height="9.32" fill="#262626"/><rect x="-8.00" y="63.12" width="17.43" height="9.32" fill="#262626"/><rect x="9.13" y="63.12" width="9.43" height="9.32" fill="#262626"/><rect x="18.27" y="63.12" width="17.43" height="9.32" fill="#4c4c4c"/><rect x="-8.00" y="72.13" width="17.43" height="9.32" fill="#4c4c4c"/><rect x="9.13" y="72.13" width="9.43" height="9.32" fill="#333333"/><rect x="18.27" y="72.13" width="17.43" height="9.32" fill="#262626"/><rect x="-8.00" y="81.15" width="17.43" height="9.32" fill="#666666"/><rect x="9.13" y="81.15" width="9.43" height="9.32" fill="#4c4c4c"/><rect x="18.27" y="81.15" width="17.43" height="9.32" fill="#4c4c4c"/><rect x="-8.00" y="90.17" width="17.43" height="9.32" fill="#919191"/><rect x="9.13" y="90.17" width="9.43" height="9.32" fill="#666666"/><rect x="18.27" y="90.17" width="17.43" height="9.32" fill="#4c4c4c"/><rect x="-8.00" y="99.18" width="17.43" height="9.32" fill="#919191"/><rect x="9.13" y="99.18" width="9.43" height="9.32" fill="#666666"/><rect x="18.27" y="99.18" width="17.43" height="9.32" fill="#262626"/><rect x="-8.00" y="108.20" width="17.43" height="9.32" fill="#919191"/><rect x="9.13" y="108.20" width="9.43" height="9.32" fill="#919191"/><rect x="18.27" y="108.20" width="17.43" height="9.32" fill="#1a1a1a"/><rect x="-8.00" y="117.22" width="17.43" height="9.32" fill="#919191"/><rect x="9.13" y="117.22" width="9.43" height="9.32" fill="#808080"/><rect x="18.27" y="117.22" width="17.43" height="9.32" fill="#1a1a1a"/><rect x="-8.00" y="126.23" width="17.43" height="9.32" fill="#808080"/><rect x="9.13" y="126.23" width="9.43" height="9.32" fill="#b5b5b5"/><rect x="18.27" y="126.23" width="17.43" height="9.32" fill="#1a1a1a"/><rect x="-8.00" y="135.25" width="17.43" height="9.32" fill="#4c4c4c"/><rect x="9.13" y="135.25" width="9.43" height="9.32" fill="#808080"/><rect x="18.27" y="135.25" width="17.43" height="9.32" fill="#1a1a1a"/><rect x="-8.00" y="144.27" width="17.43" height="9.32" fill="#808080"/><rect x="9.13" y="144.27" width="9.43" height="9.32" fill="#919191"/><rect x="18.27" y="144.27" width="17.43" height="9.32" fill="#4c4c4c"/><rect x="-8.00" y="153.28" width="17.43" height="9.32" fill="#808080"/><rect x="9.13" y="153.28" width="9.43" height="9.32" fill="#262626"/><rect x="18.27" y="153.28" width="17.43" height="9.32" fill="#666666"/><rect x="-8.00" y="162.30" width="17.43" height="9.32" fill="#808080"/><rect x="9.13" y="162.30" width="9.43" height="9.32" fill="#262626"/><rect x="18.27" y="162.30" width="17.43" height="9.32" fill="#919191"/><rect x="-8.00" y="171.32" width="17.43" height="9.32" fill="#919191"/><rect x="9.13" y="171.32" width="9.43" height="9.32" fill="#262626"/><rect x="18.27" y="171.32" width="17.43" height="9.32" fill="#b5b5b5"/><rect x="-8.00" y="180.33" width="17.43" height="9.32" fill="#b5b5b5"/><rect x="9.13" y="180.33" width="9.43" height="9.32" fill="#262626"/><rect x="18.27" y="180.33" width="17.43" height="9.32" fill="#666666"/><rect x="-8.00" y="189.35" width="17.43" height="9.32" fill="#808080"/><rect x="9.13" y="189.35" width="9.43" height="9.32" fill="#666666"/><rect x="18.27" y="189.35" width="17.43" height="9.32" fill="#b5b5b5"/><rect x="-8.00" y="198.37" width="17.43" height="9.32" fill="#919191"/><rect x="9.13" y="198.37" width="9.43" height="9.32" fill="#262626"/><rect x="18.27" y="198.37" width="17.43" height="9.32" fill="#4c4c4c"/><rect x="-8.00" y="207.38" width="17.43" height="9.32" fill="#808080"/><rect x="9.13" y="207.38" width="9.43" height="9.32" fill="#262626"/><rect x="18.27" y="207.38" width="17.43" height="9.32" fill="#4c4c4c"/><rect x="-8.00" y="216.40" width="17.43" height="9.32" fill="#808080"/><rect x="9.13" y="216.40" width="9.43" height="9.32" fill="#a1a1a1"/><rect x="18.27" y="216.40" width="17.43" height="9.32" fill="#4c4c4c"/><rect x="-8.00" y="225.42" width="17.43" height="9.32" fill="#919191"/><rect x="9.13" y="225.42" width="9.43" height="9.32" fill="#a1a1a1"/><rect x="18.27" y="225.42" width="17.43" height="9.32" fill="#262626"/><rect x="-8.00" y="234.43" width="17.43" height="9.32" fill="#1a1a1a"/><rect x="9.13" y="234.43" width="9.43" height="9.32" fill="#919191"/><rect x="18.27" y="234.43" width="17.43" height="9.32" fill="#4c4c4c"/><rect x="-8.00" y="243.45" width="17.43" height="9.32" fill="#919191"/><rect x="9.13" y="243.45" width="9.43" height="9.32" fill="#666666"/><rect x="18.27" y="243.45" width="17.43" height="9.32" fill="#262626"/><rect x="-8.00" y="252.47" width="17.43" height="9.32" fill="#919191"/><rect x="9.13" y="252.47" width="9.43" height="9.32" fill="#a1a1a1"/><rect x="18.27" y="252.47" width="17.43" height="9.32" fill="#4c4c4c"/><rect x="-8.00" y="261.48" width="17.43" height="17.32" fill="#919191"/><rect x="9.13" y="261.48" width="9.43" height="17.32" fill="#b5b5b5"/><rect x="18.27" y="261.48" width="17.43" height="17.32" fill="#4c4c4c"/><ellipse cx="1.2" cy="110" rx="2.6" ry="13" fill="#dbdbdb"/></g>
<rect width="27.4" height="270.5" fill="url(#edg)"/>
</g>
<g transform="translate(348.9 32.0)" clip-path="url(#sc)">
<g filter="url(#cf1)"><rect x="-8.00" y="-8.00" width="17.43" height="17.32" fill="#262626"/><rect x="9.13" y="-8.00" width="9.43" height="17.32" fill="#666666"/><rect x="18.27" y="-8.00" width="17.43" height="17.32" fill="#262626"/><rect x="-8.00" y="9.02" width="17.43" height="9.32" fill="#262626"/><rect x="9.13" y="9.02" width="9.43" height="9.32" fill="#4c4c4c"/><rect x="18.27" y="9.02" width="17.43" height="9.32" fill="#4c4c4c"/><rect x="-8.00" y="18.03" width="17.43" height="9.32" fill="#4c4c4c"/><rect x="9.13" y="18.03" width="9.43" height="9.32" fill="#262626"/><rect x="18.27" y="18.03" width="17.43" height="9.32" fill="#666666"/><rect x="-8.00" y="27.05" width="17.43" height="9.32" fill="#4c4c4c"/><rect x="9.13" y="27.05" width="9.43" height="9.32" fill="#262626"/><rect x="18.27" y="27.05" width="17.43" height="9.32" fill="#666666"/><rect x="-8.00" y="36.07" width="17.43" height="9.32" fill="#4c4c4c"/><rect x="9.13" y="36.07" width="9.43" height="9.32" fill="#1a1a1a"/><rect x="18.27" y="36.07" width="17.43" height="9.32" fill="#4c4c4c"/><rect x="-8.00" y="45.08" width="17.43" height="9.32" fill="#4c4c4c"/><rect x="9.13" y="45.08" width="9.43" height="9.32" fill="#1a1a1a"/><rect x="18.27" y="45.08" width="17.43" height="9.32" fill="#262626"/><rect x="-8.00" y="54.10" width="17.43" height="9.32" fill="#262626"/><rect x="9.13" y="54.10" width="9.43" height="9.32" fill="#1a1a1a"/><rect x="18.27" y="54.10" width="17.43" height="9.32" fill="#666666"/><rect x="-8.00" y="63.12" width="17.43" height="9.32" fill="#4c4c4c"/><rect x="9.13" y="63.12" width="9.43" height="9.32" fill="#1a1a1a"/><rect x="18.27" y="63.12" width="17.43" height="9.32" fill="#808080"/><rect x="-8.00" y="72.13" width="17.43" height="9.32" fill="#262626"/><rect x="9.13" y="72.13" width="9.43" height="9.32" fill="#262626"/><rect x="18.27" y="72.13" width="17.43" height="9.32" fill="#666666"/><rect x="-8.00" y="81.15" width="17.43" height="9.32" fill="#4c4c4c"/><rect x="9.13" y="81.15" width="9.43" height="9.32" fill="#262626"/><rect x="18.27" y="81.15" width="17.43" height="9.32" fill="#808080"/><rect x="-8.00" y="90.17" width="17.43" height="9.32" fill="#4c4c4c"/><rect x="9.13" y="90.17" width="9.43" height="9.32" fill="#666666"/><rect x="18.27" y="90.17" width="17.43" height="9.32" fill="#919191"/><rect x="-8.00" y="99.18" width="17.43" height="9.32" fill="#b5b5b5"/><rect x="9.13" y="99.18" width="9.43" height="9.32" fill="#4c4c4c"/><rect x="18.27" y="99.18" width="17.43" height="9.32" fill="#808080"/><rect x="-8.00" y="108.20" width="17.43" height="9.32" fill="#a1a1a1"/><rect x="9.13" y="108.20" width="9.43" height="9.32" fill="#666666"/><rect x="18.27" y="108.20" width="17.43" height="9.32" fill="#4c4c4c"/><rect x="-8.00" y="117.22" width="17.43" height="9.32" fill="#808080"/><rect x="9.13" y="117.22" width="9.43" height="9.32" fill="#4c4c4c"/><rect x="18.27" y="117.22" width="17.43" height="9.32" fill="#262626"/><rect x="-8.00" y="126.23" width="17.43" height="9.32" fill="#919191"/><rect x="9.13" y="126.23" width="9.43" height="9.32" fill="#666666"/><rect x="18.27" y="126.23" width="17.43" height="9.32" fill="#262626"/><rect x="-8.00" y="135.25" width="17.43" height="9.32" fill="#808080"/><rect x="9.13" y="135.25" width="9.43" height="9.32" fill="#4c4c4c"/><rect x="18.27" y="135.25" width="17.43" height="9.32" fill="#262626"/><rect x="-8.00" y="144.27" width="17.43" height="9.32" fill="#808080"/><rect x="9.13" y="144.27" width="9.43" height="9.32" fill="#262626"/><rect x="18.27" y="144.27" width="17.43" height="9.32" fill="#262626"/><rect x="-8.00" y="153.28" width="17.43" height="9.32" fill="#b5b5b5"/><rect x="9.13" y="153.28" width="9.43" height="9.32" fill="#a1a1a1"/><rect x="18.27" y="153.28" width="17.43" height="9.32" fill="#666666"/><rect x="-8.00" y="162.30" width="17.43" height="9.32" fill="#b5b5b5"/><rect x="9.13" y="162.30" width="9.43" height="9.32" fill="#262626"/><rect x="18.27" y="162.30" width="17.43" height="9.32" fill="#919191"/><rect x="-8.00" y="171.32" width="17.43" height="9.32" fill="#808080"/><rect x="9.13" y="171.32" width="9.43" height="9.32" fill="#262626"/><rect x="18.27" y="171.32" width="17.43" height="9.32" fill="#4c4c4c"/><rect x="-8.00" y="180.33" width="17.43" height="9.32" fill="#808080"/><rect x="9.13" y="180.33" width="9.43" height="9.32" fill="#666666"/><rect x="18.27" y="180.33" width="17.43" height="9.32" fill="#4c4c4c"/><rect x="-8.00" y="189.35" width="17.43" height="9.32" fill="#808080"/><rect x="9.13" y="189.35" width="9.43" height="9.32" fill="#4c4c4c"/><rect x="18.27" y="189.35" width="17.43" height="9.32" fill="#dbdbdb"/><rect x="-8.00" y="198.37" width="17.43" height="9.32" fill="#666666"/><rect x="9.13" y="198.37" width="9.43" height="9.32" fill="#4c4c4c"/><rect x="18.27" y="198.37" width="17.43" height="9.32" fill="#dbdbdb"/><rect x="-8.00" y="207.38" width="17.43" height="9.32" fill="#4c4c4c"/><rect x="9.13" y="207.38" width="9.43" height="9.32" fill="#1a1a1a"/><rect x="18.27" y="207.38" width="17.43" height="9.32" fill="#262626"/><rect x="-8.00" y="216.40" width="17.43" height="9.32" fill="#808080"/><rect x="9.13" y="216.40" width="9.43" height="9.32" fill="#1a1a1a"/><rect x="18.27" y="216.40" width="17.43" height="9.32" fill="#262626"/><rect x="-8.00" y="225.42" width="17.43" height="9.32" fill="#808080"/><rect x="9.13" y="225.42" width="9.43" height="9.32" fill="#1a1a1a"/><rect x="18.27" y="225.42" width="17.43" height="9.32" fill="#262626"/><rect x="-8.00" y="234.43" width="17.43" height="9.32" fill="#a1a1a1"/><rect x="9.13" y="234.43" width="9.43" height="9.32" fill="#4c4c4c"/><rect x="18.27" y="234.43" width="17.43" height="9.32" fill="#262626"/><rect x="-8.00" y="243.45" width="17.43" height="9.32" fill="#b5b5b5"/><rect x="9.13" y="243.45" width="9.43" height="9.32" fill="#a1a1a1"/><rect x="18.27" y="243.45" width="17.43" height="9.32" fill="#919191"/><rect x="-8.00" y="252.47" width="17.43" height="9.32" fill="#b5b5b5"/><rect x="9.13" y="252.47" width="9.43" height="9.32" fill="#666666"/><rect x="18.27" y="252.47" width="17.43" height="9.32" fill="#4c4c4c"/><rect x="-8.00" y="261.48" width="17.43" height="17.32" fill="#919191"/><rect x="9.13" y="261.48" width="9.43" height="17.32" fill="#4c4c4c"/><rect x="18.27" y="261.48" width="17.43" height="17.32" fill="#808080"/></g>
<rect width="27.4" height="270.5" fill="url(#edg)"/>
</g>
<g transform="translate(384.3 32.0)" clip-path="url(#sc)">
<g filter="url(#cf2)"><rect x="-8.00" y="-8.00" width="17.43" height="17.32" fill="#262626"/><rect x="9.13" y="-8.00" width="9.43" height="17.32" fill="#333333"/><rect x="18.27" y="-8.00" width="17.43" height="17.32" fill="#4c4c4c"/><rect x="-8.00" y="9.02" width="17.43" height="9.32" fill="#262626"/><rect x="9.13" y="9.02" width="9.43" height="9.32" fill="#1a1a1a"/><rect x="18.27" y="9.02" width="17.43" height="9.32" fill="#666666"/><rect x="-8.00" y="18.03" width="17.43" height="9.32" fill="#262626"/><rect x="9.13" y="18.03" width="9.43" height="9.32" fill="#666666"/><rect x="18.27" y="18.03" width="17.43" height="9.32" fill="#808080"/><rect x="-8.00" y="27.05" width="17.43" height="9.32" fill="#1a1a1a"/><rect x="9.13" y="27.05" width="9.43" height="9.32" fill="#666666"/><rect x="18.27" y="27.05" width="17.43" height="9.32" fill="#919191"/><rect x="-8.00" y="36.07" width="17.43" height="9.32" fill="#1a1a1a"/><rect x="9.13" y="36.07" width="9.43" height="9.32" fill="#666666"/><rect x="18.27" y="36.07" width="17.43" height="9.32" fill="#808080"/><rect x="-8.00" y="45.08" width="17.43" height="9.32" fill="#1a1a1a"/><rect x="9.13" y="45.08" width="9.43" height="9.32" fill="#4c4c4c"/><rect x="18.27" y="45.08" width="17.43" height="9.32" fill="#808080"/><rect x="-8.00" y="54.10" width="17.43" height="9.32" fill="#1a1a1a"/><rect x="9.13" y="54.10" width="9.43" height="9.32" fill="#262626"/><rect x="18.27" y="54.10" width="17.43" height="9.32" fill="#4c4c4c"/><rect x="-8.00" y="63.12" width="17.43" height="9.32" fill="#1a1a1a"/><rect x="9.13" y="63.12" width="9.43" height="9.32" fill="#262626"/><rect x="18.27" y="63.12" width="17.43" height="9.32" fill="#333333"/><rect x="-8.00" y="72.13" width="17.43" height="9.32" fill="#262626"/><rect x="9.13" y="72.13" width="9.43" height="9.32" fill="#666666"/><rect x="18.27" y="72.13" width="17.43" height="9.32" fill="#333333"/><rect x="-8.00" y="81.15" width="17.43" height="9.32" fill="#262626"/><rect x="9.13" y="81.15" width="9.43" height="9.32" fill="#333333"/><rect x="18.27" y="81.15" width="17.43" height="9.32" fill="#4c4c4c"/><rect x="-8.00" y="90.17" width="17.43" height="9.32" fill="#262626"/><rect x="9.13" y="90.17" width="9.43" height="9.32" fill="#4c4c4c"/><rect x="18.27" y="90.17" width="17.43" height="9.32" fill="#4c4c4c"/><rect x="-8.00" y="99.18" width="17.43" height="9.32" fill="#262626"/><rect x="9.13" y="99.18" width="9.43" height="9.32" fill="#333333"/><rect x="18.27" y="99.18" width="17.43" height="9.32" fill="#262626"/><rect x="-8.00" y="108.20" width="17.43" height="9.32" fill="#262626"/><rect x="9.13" y="108.20" width="9.43" height="9.32" fill="#666666"/><rect x="18.27" y="108.20" width="17.43" height="9.32" fill="#262626"/><rect x="-8.00" y="117.22" width="17.43" height="9.32" fill="#666666"/><rect x="9.13" y="117.22" width="9.43" height="9.32" fill="#808080"/><rect x="18.27" y="117.22" width="17.43" height="9.32" fill="#262626"/><rect x="-8.00" y="126.23" width="17.43" height="9.32" fill="#262626"/><rect x="9.13" y="126.23" width="9.43" height="9.32" fill="#b5b5b5"/><rect x="18.27" y="126.23" width="17.43" height="9.32" fill="#4c4c4c"/><rect x="-8.00" y="135.25" width="17.43" height="9.32" fill="#262626"/><rect x="9.13" y="135.25" width="9.43" height="9.32" fill="#666666"/><rect x="18.27" y="135.25" width="17.43" height="9.32" fill="#262626"/><rect x="-8.00" y="144.27" width="17.43" height="9.32" fill="#262626"/><rect x="9.13" y="144.27" width="9.43" height="9.32" fill="#262626"/><rect x="18.27" y="144.27" width="17.43" height="9.32" fill="#262626"/><rect x="-8.00" y="153.28" width="17.43" height="9.32" fill="#262626"/><rect x="9.13" y="153.28" width="9.43" height="9.32" fill="#333333"/><rect x="18.27" y="153.28" width="17.43" height="9.32" fill="#262626"/><rect x="-8.00" y="162.30" width="17.43" height="9.32" fill="#262626"/><rect x="9.13" y="162.30" width="9.43" height="9.32" fill="#919191"/><rect x="18.27" y="162.30" width="17.43" height="9.32" fill="#262626"/><rect x="-8.00" y="171.32" width="17.43" height="9.32" fill="#262626"/><rect x="9.13" y="171.32" width="9.43" height="9.32" fill="#919191"/><rect x="18.27" y="171.32" width="17.43" height="9.32" fill="#262626"/><rect x="-8.00" y="180.33" width="17.43" height="9.32" fill="#262626"/><rect x="9.13" y="180.33" width="9.43" height="9.32" fill="#4c4c4c"/><rect x="18.27" y="180.33" width="17.43" height="9.32" fill="#262626"/><rect x="-8.00" y="189.35" width="17.43" height="9.32" fill="#666666"/><rect x="9.13" y="189.35" width="9.43" height="9.32" fill="#666666"/><rect x="18.27" y="189.35" width="17.43" height="9.32" fill="#262626"/><rect x="-8.00" y="198.37" width="17.43" height="9.32" fill="#4c4c4c"/><rect x="9.13" y="198.37" width="9.43" height="9.32" fill="#4c4c4c"/><rect x="18.27" y="198.37" width="17.43" height="9.32" fill="#dbdbdb"/><rect x="-8.00" y="207.38" width="17.43" height="9.32" fill="#262626"/><rect x="9.13" y="207.38" width="9.43" height="9.32" fill="#262626"/><rect x="18.27" y="207.38" width="17.43" height="9.32" fill="#4c4c4c"/><rect x="-8.00" y="216.40" width="17.43" height="9.32" fill="#4c4c4c"/><rect x="9.13" y="216.40" width="9.43" height="9.32" fill="#4c4c4c"/><rect x="18.27" y="216.40" width="17.43" height="9.32" fill="#4c4c4c"/><rect x="-8.00" y="225.42" width="17.43" height="9.32" fill="#262626"/><rect x="9.13" y="225.42" width="9.43" height="9.32" fill="#666666"/><rect x="18.27" y="225.42" width="17.43" height="9.32" fill="#808080"/><rect x="-8.00" y="234.43" width="17.43" height="9.32" fill="#666666"/><rect x="9.13" y="234.43" width="9.43" height="9.32" fill="#919191"/><rect x="18.27" y="234.43" width="17.43" height="9.32" fill="#b5b5b5"/><rect x="-8.00" y="243.45" width="17.43" height="9.32" fill="#262626"/><rect x="9.13" y="243.45" width="9.43" height="9.32" fill="#a1a1a1"/><rect x="18.27" y="243.45" width="17.43" height="9.32" fill="#808080"/><rect x="-8.00" y="252.47" width="17.43" height="9.32" fill="#262626"/><rect x="9.13" y="252.47" width="9.43" height="9.32" fill="#919191"/><rect x="18.27" y="252.47" width="17.43" height="9.32" fill="#666666"/><rect x="-8.00" y="261.48" width="17.43" height="17.32" fill="#262626"/><rect x="9.13" y="261.48" width="9.43" height="17.32" fill="#1a1a1a"/><rect x="18.27" y="261.48" width="17.43" height="17.32" fill="#4c4c4c"/><ellipse cx="23.5" cy="40" rx="3.2" ry="5" fill="#dbdbdb"/></g>
<rect width="27.4" height="270.5" fill="url(#edg)"/>
</g>
<g transform="translate(419.4 32.0)" clip-path="url(#sc)">
<g filter="url(#cf3)"><rect x="-8.00" y="-8.00" width="17.43" height="17.32" fill="#4c4c4c"/><rect x="9.13" y="-8.00" width="9.43" height="17.32" fill="#262626"/><rect x="18.27" y="-8.00" width="17.43" height="17.32" fill="#262626"/><rect x="-8.00" y="9.02" width="17.43" height="9.32" fill="#4c4c4c"/><rect x="9.13" y="9.02" width="9.43" height="9.32" fill="#1a1a1a"/><rect x="18.27" y="9.02" width="17.43" height="9.32" fill="#262626"/><rect x="-8.00" y="18.03" width="17.43" height="9.32" fill="#4c4c4c"/><rect x="9.13" y="18.03" width="9.43" height="9.32" fill="#1a1a1a"/><rect x="18.27" y="18.03" width="17.43" height="9.32" fill="#4c4c4c"/><rect x="-8.00" y="27.05" width="17.43" height="9.32" fill="#4c4c4c"/><rect x="9.13" y="27.05" width="9.43" height="9.32" fill="#666666"/><rect x="18.27" y="27.05" width="17.43" height="9.32" fill="#4c4c4c"/><rect x="-8.00" y="36.07" width="17.43" height="9.32" fill="#666666"/><rect x="9.13" y="36.07" width="9.43" height="9.32" fill="#808080"/><rect x="18.27" y="36.07" width="17.43" height="9.32" fill="#808080"/><rect x="-8.00" y="45.08" width="17.43" height="9.32" fill="#666666"/><rect x="9.13" y="45.08" width="9.43" height="9.32" fill="#808080"/><rect x="18.27" y="45.08" width="17.43" height="9.32" fill="#919191"/><rect x="-8.00" y="54.10" width="17.43" height="9.32" fill="#666666"/><rect x="9.13" y="54.10" width="9.43" height="9.32" fill="#262626"/><rect x="18.27" y="54.10" width="17.43" height="9.32" fill="#919191"/><rect x="-8.00" y="63.12" width="17.43" height="9.32" fill="#919191"/><rect x="9.13" y="63.12" width="9.43" height="9.32" fill="#262626"/><rect x="18.27" y="63.12" width="17.43" height="9.32" fill="#808080"/><rect x="-8.00" y="72.13" width="17.43" height="9.32" fill="#666666"/><rect x="9.13" y="72.13" width="9.43" height="9.32" fill="#a1a1a1"/><rect x="18.27" y="72.13" width="17.43" height="9.32" fill="#666666"/><rect x="-8.00" y="81.15" width="17.43" height="9.32" fill="#4c4c4c"/><rect x="9.13" y="81.15" width="9.43" height="9.32" fill="#666666"/><rect x="18.27" y="81.15" width="17.43" height="9.32" fill="#4c4c4c"/><rect x="-8.00" y="90.17" width="17.43" height="9.32" fill="#4c4c4c"/><rect x="9.13" y="90.17" width="9.43" height="9.32" fill="#1a1a1a"/><rect x="18.27" y="90.17" width="17.43" height="9.32" fill="#262626"/><rect x="-8.00" y="99.18" width="17.43" height="9.32" fill="#4c4c4c"/><rect x="9.13" y="99.18" width="9.43" height="9.32" fill="#1a1a1a"/><rect x="18.27" y="99.18" width="17.43" height="9.32" fill="#262626"/><rect x="-8.00" y="108.20" width="17.43" height="9.32" fill="#4c4c4c"/><rect x="9.13" y="108.20" width="9.43" height="9.32" fill="#262626"/><rect x="18.27" y="108.20" width="17.43" height="9.32" fill="#262626"/><rect x="-8.00" y="117.22" width="17.43" height="9.32" fill="#666666"/><rect x="9.13" y="117.22" width="9.43" height="9.32" fill="#262626"/><rect x="18.27" y="117.22" width="17.43" height="9.32" fill="#262626"/><rect x="-8.00" y="126.23" width="17.43" height="9.32" fill="#b5b5b5"/><rect x="9.13" y="126.23" width="9.43" height="9.32" fill="#262626"/><rect x="18.27" y="126.23" width="17.43" height="9.32" fill="#262626"/><rect x="-8.00" y="135.25" width="17.43" height="9.32" fill="#666666"/><rect x="9.13" y="135.25" width="9.43" height="9.32" fill="#262626"/><rect x="18.27" y="135.25" width="17.43" height="9.32" fill="#4c4c4c"/><rect x="-8.00" y="144.27" width="17.43" height="9.32" fill="#666666"/><rect x="9.13" y="144.27" width="9.43" height="9.32" fill="#4c4c4c"/><rect x="18.27" y="144.27" width="17.43" height="9.32" fill="#4c4c4c"/><rect x="-8.00" y="153.28" width="17.43" height="9.32" fill="#808080"/><rect x="9.13" y="153.28" width="9.43" height="9.32" fill="#262626"/><rect x="18.27" y="153.28" width="17.43" height="9.32" fill="#4c4c4c"/><rect x="-8.00" y="162.30" width="17.43" height="9.32" fill="#666666"/><rect x="9.13" y="162.30" width="9.43" height="9.32" fill="#4c4c4c"/><rect x="18.27" y="162.30" width="17.43" height="9.32" fill="#262626"/><rect x="-8.00" y="171.32" width="17.43" height="9.32" fill="#666666"/><rect x="9.13" y="171.32" width="9.43" height="9.32" fill="#262626"/><rect x="18.27" y="171.32" width="17.43" height="9.32" fill="#4c4c4c"/><rect x="-8.00" y="180.33" width="17.43" height="9.32" fill="#666666"/><rect x="9.13" y="180.33" width="9.43" height="9.32" fill="#4c4c4c"/><rect x="18.27" y="180.33" width="17.43" height="9.32" fill="#262626"/><rect x="-8.00" y="189.35" width="17.43" height="9.32" fill="#a1a1a1"/><rect x="9.13" y="189.35" width="9.43" height="9.32" fill="#919191"/><rect x="18.27" y="189.35" width="17.43" height="9.32" fill="#4c4c4c"/><rect x="-8.00" y="198.37" width="17.43" height="9.32" fill="#a1a1a1"/><rect x="9.13" y="198.37" width="9.43" height="9.32" fill="#b5b5b5"/><rect x="18.27" y="198.37" width="17.43" height="9.32" fill="#262626"/><rect x="-8.00" y="207.38" width="17.43" height="9.32" fill="#dbdbdb"/><rect x="9.13" y="207.38" width="9.43" height="9.32" fill="#4c4c4c"/><rect x="18.27" y="207.38" width="17.43" height="9.32" fill="#262626"/><rect x="-8.00" y="216.40" width="17.43" height="9.32" fill="#b5b5b5"/><rect x="9.13" y="216.40" width="9.43" height="9.32" fill="#4c4c4c"/><rect x="18.27" y="216.40" width="17.43" height="9.32" fill="#262626"/><rect x="-8.00" y="225.42" width="17.43" height="9.32" fill="#4c4c4c"/><rect x="9.13" y="225.42" width="9.43" height="9.32" fill="#1a1a1a"/><rect x="18.27" y="225.42" width="17.43" height="9.32" fill="#262626"/><rect x="-8.00" y="234.43" width="17.43" height="9.32" fill="#666666"/><rect x="9.13" y="234.43" width="9.43" height="9.32" fill="#1a1a1a"/><rect x="18.27" y="234.43" width="17.43" height="9.32" fill="#262626"/><rect x="-8.00" y="243.45" width="17.43" height="9.32" fill="#666666"/><rect x="9.13" y="243.45" width="9.43" height="9.32" fill="#919191"/><rect x="18.27" y="243.45" width="17.43" height="9.32" fill="#1a1a1a"/><rect x="-8.00" y="252.47" width="17.43" height="9.32" fill="#808080"/><rect x="9.13" y="252.47" width="9.43" height="9.32" fill="#1a1a1a"/><rect x="18.27" y="252.47" width="17.43" height="9.32" fill="#4c4c4c"/><rect x="-8.00" y="261.48" width="17.43" height="17.32" fill="#1a1a1a"/><rect x="9.13" y="261.48" width="9.43" height="17.32" fill="#262626"/><rect x="18.27" y="261.48" width="17.43" height="17.32" fill="#4c4c4c"/><ellipse cx="26" cy="54" rx="2.5" ry="5.5" fill="#dbdbdb"/></g>
<rect width="27.4" height="270.5" fill="url(#edg)"/>
<ellipse cx="3.0" cy="271" rx="3.0" ry="3" fill="#fff" filter="url(#nb)"/>
</g>
<g transform="translate(470.9 32.0)" clip-path="url(#sc)">
<g filter="url(#cf4)"><rect x="-8.00" y="-8.00" width="17.43" height="17.32" fill="#202020"/><rect x="9.13" y="-8.00" width="9.43" height="17.32" fill="#202020"/><rect x="18.27" y="-8.00" width="17.43" height="17.32" fill="#202020"/><rect x="-8.00" y="9.02" width="17.43" height="9.32" fill="#202020"/><rect x="9.13" y="9.02" width="9.43" height="9.32" fill="#333333"/><rect x="18.27" y="9.02" width="17.43" height="9.32" fill="#202020"/><rect x="-8.00" y="18.03" width="17.43" height="9.32" fill="#202020"/><rect x="9.13" y="18.03" width="9.43" height="9.32" fill="#333333"/><rect x="18.27" y="18.03" width="17.43" height="9.32" fill="#333333"/><rect x="-8.00" y="27.05" width="17.43" height="9.32" fill="#202020"/><rect x="9.13" y="27.05" width="9.43" height="9.32" fill="#333333"/><rect x="18.27" y="27.05" width="17.43" height="9.32" fill="#4c4c4c"/><rect x="-8.00" y="36.07" width="17.43" height="9.32" fill="#333333"/><rect x="9.13" y="36.07" width="9.43" height="9.32" fill="#333333"/><rect x="18.27" y="36.07" width="17.43" height="9.32" fill="#4c4c4c"/><rect x="-8.00" y="45.08" width="17.43" height="9.32" fill="#333333"/><rect x="9.13" y="45.08" width="9.43" height="9.32" fill="#4c4c4c"/><rect x="18.27" y="45.08" width="17.43" height="9.32" fill="#333333"/><rect x="-8.00" y="54.10" width="17.43" height="9.32" fill="#333333"/><rect x="9.13" y="54.10" width="9.43" height="9.32" fill="#333333"/><rect x="18.27" y="54.10" width="17.43" height="9.32" fill="#4c4c4c"/><rect x="-8.00" y="63.12" width="17.43" height="9.32" fill="#333333"/><rect x="9.13" y="63.12" width="9.43" height="9.32" fill="#4c4c4c"/><rect x="18.27" y="63.12" width="17.43" height="9.32" fill="#666666"/><rect x="-8.00" y="72.13" width="17.43" height="9.32" fill="#4c4c4c"/><rect x="9.13" y="72.13" width="9.43" height="9.32" fill="#666666"/><rect x="18.27" y="72.13" width="17.43" height="9.32" fill="#4c4c4c"/><rect x="-8.00" y="81.15" width="17.43" height="9.32" fill="#666666"/><rect x="9.13" y="81.15" width="9.43" height="9.32" fill="#919191"/><rect x="18.27" y="81.15" width="17.43" height="9.32" fill="#b5b5b5"/><rect x="-8.00" y="90.17" width="17.43" height="9.32" fill="#808080"/><rect x="9.13" y="90.17" width="9.43" height="9.32" fill="#202020"/><rect x="18.27" y="90.17" width="17.43" height="9.32" fill="#b5b5b5"/><rect x="-8.00" y="99.18" width="17.43" height="9.32" fill="#808080"/><rect x="9.13" y="99.18" width="9.43" height="9.32" fill="#333333"/><rect x="18.27" y="99.18" width="17.43" height="9.32" fill="#4c4c4c"/><rect x="-8.00" y="108.20" width="17.43" height="9.32" fill="#919191"/><rect x="9.13" y="108.20" width="9.43" height="9.32" fill="#202020"/><rect x="18.27" y="108.20" width="17.43" height="9.32" fill="#4c4c4c"/><rect x="-8.00" y="117.22" width="17.43" height="9.32" fill="#b5b5b5"/><rect x="9.13" y="117.22" width="9.43" height="9.32" fill="#202020"/><rect x="18.27" y="117.22" width="17.43" height="9.32" fill="#4c4c4c"/><rect x="-8.00" y="126.23" width="17.43" height="9.32" fill="#808080"/><rect x="9.13" y="126.23" width="9.43" height="9.32" fill="#333333"/><rect x="18.27" y="126.23" width="17.43" height="9.32" fill="#666666"/><rect x="-8.00" y="135.25" width="17.43" height="9.32" fill="#666666"/><rect x="9.13" y="135.25" width="9.43" height="9.32" fill="#919191"/><rect x="18.27" y="135.25" width="17.43" height="9.32" fill="#4c4c4c"/><rect x="-8.00" y="144.27" width="17.43" height="9.32" fill="#666666"/><rect x="9.13" y="144.27" width="9.43" height="9.32" fill="#202020"/><rect x="18.27" y="144.27" width="17.43" height="9.32" fill="#b5b5b5"/><rect x="-8.00" y="153.28" width="17.43" height="9.32" fill="#666666"/><rect x="9.13" y="153.28" width="9.43" height="9.32" fill="#919191"/><rect x="18.27" y="153.28" width="17.43" height="9.32" fill="#b5b5b5"/><rect x="-8.00" y="162.30" width="17.43" height="9.32" fill="#b5b5b5"/><rect x="9.13" y="162.30" width="9.43" height="9.32" fill="#b5b5b5"/><rect x="18.27" y="162.30" width="17.43" height="9.32" fill="#a1a1a1"/><rect x="-8.00" y="171.32" width="17.43" height="9.32" fill="#dbdbdb"/><rect x="9.13" y="171.32" width="9.43" height="9.32" fill="#202020"/><rect x="18.27" y="171.32" width="17.43" height="9.32" fill="#808080"/><rect x="-8.00" y="180.33" width="17.43" height="9.32" fill="#a1a1a1"/><rect x="9.13" y="180.33" width="9.43" height="9.32" fill="#202020"/><rect x="18.27" y="180.33" width="17.43" height="9.32" fill="#4c4c4c"/><rect x="-8.00" y="189.35" width="17.43" height="9.32" fill="#808080"/><rect x="9.13" y="189.35" width="9.43" height="9.32" fill="#a1a1a1"/><rect x="18.27" y="189.35" width="17.43" height="9.32" fill="#202020"/><rect x="-8.00" y="198.37" width="17.43" height="9.32" fill="#4c4c4c"/><rect x="9.13" y="198.37" width="9.43" height="9.32" fill="#202020"/><rect x="18.27" y="198.37" width="17.43" height="9.32" fill="#202020"/><rect x="-8.00" y="207.38" width="17.43" height="9.32" fill="#808080"/><rect x="9.13" y="207.38" width="9.43" height="9.32" fill="#202020"/><rect x="18.27" y="207.38" width="17.43" height="9.32" fill="#4c4c4c"/><rect x="-8.00" y="216.40" width="17.43" height="9.32" fill="#808080"/><rect x="9.13" y="216.40" width="9.43" height="9.32" fill="#202020"/><rect x="18.27" y="216.40" width="17.43" height="9.32" fill="#4c4c4c"/><rect x="-8.00" y="225.42" width="17.43" height="9.32" fill="#808080"/><rect x="9.13" y="225.42" width="9.43" height="9.32" fill="#333333"/><rect x="18.27" y="225.42" width="17.43" height="9.32" fill="#4c4c4c"/><rect x="-8.00" y="234.43" width="17.43" height="9.32" fill="#808080"/><rect x="9.13" y="234.43" width="9.43" height="9.32" fill="#4c4c4c"/><rect x="18.27" y="234.43" width="17.43" height="9.32" fill="#808080"/><rect x="-8.00" y="243.45" width="17.43" height="9.32" fill="#808080"/><rect x="9.13" y="243.45" width="9.43" height="9.32" fill="#4c4c4c"/><rect x="18.27" y="243.45" width="17.43" height="9.32" fill="#b5b5b5"/><rect x="-8.00" y="252.47" width="17.43" height="9.32" fill="#808080"/><rect x="9.13" y="252.47" width="9.43" height="9.32" fill="#b5b5b5"/><rect x="18.27" y="252.47" width="17.43" height="9.32" fill="#dbdbdb"/><rect x="-8.00" y="261.48" width="17.43" height="17.32" fill="#808080"/><rect x="9.13" y="261.48" width="9.43" height="17.32" fill="#b5b5b5"/><rect x="18.27" y="261.48" width="17.43" height="17.32" fill="#dbdbdb"/></g>
<rect width="27.4" height="270.5" fill="url(#edg)"/>
</g>
<g transform="translate(506.5 32.0)" clip-path="url(#sc)">
<g filter="url(#cf5)"><rect x="-8.00" y="-8.00" width="17.43" height="17.32" fill="#202020"/><rect x="9.13" y="-8.00" width="9.43" height="17.32" fill="#202020"/><rect x="18.27" y="-8.00" width="17.43" height="17.32" fill="#202020"/><rect x="-8.00" y="9.02" width="17.43" height="9.32" fill="#333333"/><rect x="9.13" y="9.02" width="9.43" height="9.32" fill="#202020"/><rect x="18.27" y="9.02" width="17.43" height="9.32" fill="#202020"/><rect x="-8.00" y="18.03" width="17.43" height="9.32" fill="#333333"/><rect x="9.13" y="18.03" width="9.43" height="9.32" fill="#202020"/><rect x="18.27" y="18.03" width="17.43" height="9.32" fill="#202020"/><rect x="-8.00" y="27.05" width="17.43" height="9.32" fill="#202020"/><rect x="9.13" y="27.05" width="9.43" height="9.32" fill="#171717"/><rect x="18.27" y="27.05" width="17.43" height="9.32" fill="#202020"/><rect x="-8.00" y="36.07" width="17.43" height="9.32" fill="#202020"/><rect x="9.13" y="36.07" width="9.43" height="9.32" fill="#333333"/><rect x="18.27" y="36.07" width="17.43" height="9.32" fill="#202020"/><rect x="-8.00" y="45.08" width="17.43" height="9.32" fill="#202020"/><rect x="9.13" y="45.08" width="9.43" height="9.32" fill="#202020"/><rect x="18.27" y="45.08" width="17.43" height="9.32" fill="#202020"/><rect x="-8.00" y="54.10" width="17.43" height="9.32" fill="#333333"/><rect x="9.13" y="54.10" width="9.43" height="9.32" fill="#171717"/><rect x="18.27" y="54.10" width="17.43" height="9.32" fill="#202020"/><rect x="-8.00" y="63.12" width="17.43" height="9.32" fill="#202020"/><rect x="9.13" y="63.12" width="9.43" height="9.32" fill="#333333"/><rect x="18.27" y="63.12" width="17.43" height="9.32" fill="#202020"/><rect x="-8.00" y="72.13" width="17.43" height="9.32" fill="#202020"/><rect x="9.13" y="72.13" width="9.43" height="9.32" fill="#202020"/><rect x="18.27" y="72.13" width="17.43" height="9.32" fill="#333333"/><rect x="-8.00" y="81.15" width="17.43" height="9.32" fill="#333333"/><rect x="9.13" y="81.15" width="9.43" height="9.32" fill="#202020"/><rect x="18.27" y="81.15" width="17.43" height="9.32" fill="#4c4c4c"/><rect x="-8.00" y="90.17" width="17.43" height="9.32" fill="#333333"/><rect x="9.13" y="90.17" width="9.43" height="9.32" fill="#333333"/><rect x="18.27" y="90.17" width="17.43" height="9.32" fill="#666666"/><rect x="-8.00" y="99.18" width="17.43" height="9.32" fill="#202020"/><rect x="9.13" y="99.18" width="9.43" height="9.32" fill="#4c4c4c"/><rect x="18.27" y="99.18" width="17.43" height="9.32" fill="#4c4c4c"/><rect x="-8.00" y="108.20" width="17.43" height="9.32" fill="#333333"/><rect x="9.13" y="108.20" width="9.43" height="9.32" fill="#666666"/><rect x="18.27" y="108.20" width="17.43" height="9.32" fill="#333333"/><rect x="-8.00" y="117.22" width="17.43" height="9.32" fill="#333333"/><rect x="9.13" y="117.22" width="9.43" height="9.32" fill="#4c4c4c"/><rect x="18.27" y="117.22" width="17.43" height="9.32" fill="#333333"/><rect x="-8.00" y="126.23" width="17.43" height="9.32" fill="#202020"/><rect x="9.13" y="126.23" width="9.43" height="9.32" fill="#333333"/><rect x="18.27" y="126.23" width="17.43" height="9.32" fill="#333333"/><rect x="-8.00" y="135.25" width="17.43" height="9.32" fill="#333333"/><rect x="9.13" y="135.25" width="9.43" height="9.32" fill="#4c4c4c"/><rect x="18.27" y="135.25" width="17.43" height="9.32" fill="#333333"/><rect x="-8.00" y="144.27" width="17.43" height="9.32" fill="#4c4c4c"/><rect x="9.13" y="144.27" width="9.43" height="9.32" fill="#4c4c4c"/><rect x="18.27" y="144.27" width="17.43" height="9.32" fill="#202020"/><rect x="-8.00" y="153.28" width="17.43" height="9.32" fill="#4c4c4c"/><rect x="9.13" y="153.28" width="9.43" height="9.32" fill="#666666"/><rect x="18.27" y="153.28" width="17.43" height="9.32" fill="#202020"/><rect x="-8.00" y="162.30" width="17.43" height="9.32" fill="#4c4c4c"/><rect x="9.13" y="162.30" width="9.43" height="9.32" fill="#333333"/><rect x="18.27" y="162.30" width="17.43" height="9.32" fill="#202020"/><rect x="-8.00" y="171.32" width="17.43" height="9.32" fill="#808080"/><rect x="9.13" y="171.32" width="9.43" height="9.32" fill="#4c4c4c"/><rect x="18.27" y="171.32" width="17.43" height="9.32" fill="#202020"/><rect x="-8.00" y="180.33" width="17.43" height="9.32" fill="#666666"/><rect x="9.13" y="180.33" width="9.43" height="9.32" fill="#808080"/><rect x="18.27" y="180.33" width="17.43" height="9.32" fill="#4c4c4c"/><rect x="-8.00" y="189.35" width="17.43" height="9.32" fill="#808080"/><rect x="9.13" y="189.35" width="9.43" height="9.32" fill="#4c4c4c"/><rect x="18.27" y="189.35" width="17.43" height="9.32" fill="#202020"/><rect x="-8.00" y="198.37" width="17.43" height="9.32" fill="#808080"/><rect x="9.13" y="198.37" width="9.43" height="9.32" fill="#919191"/><rect x="18.27" y="198.37" width="17.43" height="9.32" fill="#b5b5b5"/><rect x="-8.00" y="207.38" width="17.43" height="9.32" fill="#808080"/><rect x="9.13" y="207.38" width="9.43" height="9.32" fill="#808080"/><rect x="18.27" y="207.38" width="17.43" height="9.32" fill="#666666"/><rect x="-8.00" y="216.40" width="17.43" height="9.32" fill="#808080"/><rect x="9.13" y="216.40" width="9.43" height="9.32" fill="#808080"/><rect x="18.27" y="216.40" width="17.43" height="9.32" fill="#4c4c4c"/><rect x="-8.00" y="225.42" width="17.43" height="9.32" fill="#b5b5b5"/><rect x="9.13" y="225.42" width="9.43" height="9.32" fill="#4c4c4c"/><rect x="18.27" y="225.42" width="17.43" height="9.32" fill="#808080"/><rect x="-8.00" y="234.43" width="17.43" height="9.32" fill="#808080"/><rect x="9.13" y="234.43" width="9.43" height="9.32" fill="#1f1f1f"/><rect x="18.27" y="234.43" width="17.43" height="9.32" fill="#808080"/><rect x="-8.00" y="243.45" width="17.43" height="9.32" fill="#b5b5b5"/><rect x="9.13" y="243.45" width="9.43" height="9.32" fill="#4c4c4c"/><rect x="18.27" y="243.45" width="17.43" height="9.32" fill="#808080"/><rect x="-8.00" y="252.47" width="17.43" height="9.32" fill="#b5b5b5"/><rect x="9.13" y="252.47" width="9.43" height="9.32" fill="#4c4c4c"/><rect x="18.27" y="252.47" width="17.43" height="9.32" fill="#919191"/><rect x="-8.00" y="261.48" width="17.43" height="17.32" fill="#b5b5b5"/><rect x="9.13" y="261.48" width="9.43" height="17.32" fill="#a1a1a1"/><rect x="18.27" y="261.48" width="17.43" height="17.32" fill="#b5b5b5"/></g>
<rect width="27.4" height="270.5" fill="url(#edg)"/>
</g>
<g transform="translate(542.1 32.0)" clip-path="url(#sc)">
<g filter="url(#cf6)"><rect x="-8.00" y="-8.00" width="17.43" height="17.32" fill="#202020"/><rect x="9.13" y="-8.00" width="9.43" height="17.32" fill="#202020"/><rect x="18.27" y="-8.00" width="17.43" height="17.32" fill="#202020"/><rect x="-8.00" y="9.02" width="17.43" height="9.32" fill="#202020"/><rect x="9.13" y="9.02" width="9.43" height="9.32" fill="#202020"/><rect x="18.27" y="9.02" width="17.43" height="9.32" fill="#202020"/><rect x="-8.00" y="18.03" width="17.43" height="9.32" fill="#202020"/><rect x="9.13" y="18.03" width="9.43" height="9.32" fill="#333333"/><rect x="18.27" y="18.03" width="17.43" height="9.32" fill="#202020"/><rect x="-8.00" y="27.05" width="17.43" height="9.32" fill="#202020"/><rect x="9.13" y="27.05" width="9.43" height="9.32" fill="#333333"/><rect x="18.27" y="27.05" width="17.43" height="9.32" fill="#202020"/><rect x="-8.00" y="36.07" width="17.43" height="9.32" fill="#202020"/><rect x="9.13" y="36.07" width="9.43" height="9.32" fill="#202020"/><rect x="18.27" y="36.07" width="17.43" height="9.32" fill="#202020"/><rect x="-8.00" y="45.08" width="17.43" height="9.32" fill="#202020"/><rect x="9.13" y="45.08" width="9.43" height="9.32" fill="#333333"/><rect x="18.27" y="45.08" width="17.43" height="9.32" fill="#202020"/><rect x="-8.00" y="54.10" width="17.43" height="9.32" fill="#202020"/><rect x="9.13" y="54.10" width="9.43" height="9.32" fill="#333333"/><rect x="18.27" y="54.10" width="17.43" height="9.32" fill="#202020"/><rect x="-8.00" y="63.12" width="17.43" height="9.32" fill="#4c4c4c"/><rect x="9.13" y="63.12" width="9.43" height="9.32" fill="#333333"/><rect x="18.27" y="63.12" width="17.43" height="9.32" fill="#202020"/><rect x="-8.00" y="72.13" width="17.43" height="9.32" fill="#4c4c4c"/><rect x="9.13" y="72.13" width="9.43" height="9.32" fill="#202020"/><rect x="18.27" y="72.13" width="17.43" height="9.32" fill="#202020"/><rect x="-8.00" y="81.15" width="17.43" height="9.32" fill="#4c4c4c"/><rect x="9.13" y="81.15" width="9.43" height="9.32" fill="#333333"/><rect x="18.27" y="81.15" width="17.43" height="9.32" fill="#202020"/><rect x="-8.00" y="90.17" width="17.43" height="9.32" fill="#666666"/><rect x="9.13" y="90.17" width="9.43" height="9.32" fill="#202020"/><rect x="18.27" y="90.17" width="17.43" height="9.32" fill="#b5b5b5"/><rect x="-8.00" y="99.18" width="17.43" height="9.32" fill="#4c4c4c"/><rect x="9.13" y="99.18" width="9.43" height="9.32" fill="#666666"/><rect x="18.27" y="99.18" width="17.43" height="9.32" fill="#4c4c4c"/><rect x="-8.00" y="108.20" width="17.43" height="9.32" fill="#4c4c4c"/><rect x="9.13" y="108.20" width="9.43" height="9.32" fill="#808080"/><rect x="18.27" y="108.20" width="17.43" height="9.32" fill="#4c4c4c"/><rect x="-8.00" y="117.22" width="17.43" height="9.32" fill="#4c4c4c"/><rect x="9.13" y="117.22" width="9.43" height="9.32" fill="#dbdbdb"/><rect x="18.27" y="117.22" width="17.43" height="9.32" fill="#4c4c4c"/><rect x="-8.00" y="126.23" width="17.43" height="9.32" fill="#666666"/><rect x="9.13" y="126.23" width="9.43" height="9.32" fill="#b5b5b5"/><rect x="18.27" y="126.23" width="17.43" height="9.32" fill="#4c4c4c"/><rect x="-8.00" y="135.25" width="17.43" height="9.32" fill="#808080"/><rect x="9.13" y="135.25" width="9.43" height="9.32" fill="#a1a1a1"/><rect x="18.27" y="135.25" width="17.43" height="9.32" fill="#4c4c4c"/><rect x="-8.00" y="144.27" width="17.43" height="9.32" fill="#4c4c4c"/><rect x="9.13" y="144.27" width="9.43" height="9.32" fill="#a1a1a1"/><rect x="18.27" y="144.27" width="17.43" height="9.32" fill="#4c4c4c"/><rect x="-8.00" y="153.28" width="17.43" height="9.32" fill="#dbdbdb"/><rect x="9.13" y="153.28" width="9.43" height="9.32" fill="#666666"/><rect x="18.27" y="153.28" width="17.43" height="9.32" fill="#202020"/><rect x="-8.00" y="162.30" width="17.43" height="9.32" fill="#dbdbdb"/><rect x="9.13" y="162.30" width="9.43" height="9.32" fill="#b5b5b5"/><rect x="18.27" y="162.30" width="17.43" height="9.32" fill="#4c4c4c"/><rect x="-8.00" y="171.32" width="17.43" height="9.32" fill="#808080"/><rect x="9.13" y="171.32" width="9.43" height="9.32" fill="#666666"/><rect x="18.27" y="171.32" width="17.43" height="9.32" fill="#4c4c4c"/><rect x="-8.00" y="180.33" width="17.43" height="9.32" fill="#666666"/><rect x="9.13" y="180.33" width="9.43" height="9.32" fill="#4c4c4c"/><rect x="18.27" y="180.33" width="17.43" height="9.32" fill="#666666"/><rect x="-8.00" y="189.35" width="17.43" height="9.32" fill="#808080"/><rect x="9.13" y="189.35" width="9.43" height="9.32" fill="#808080"/><rect x="18.27" y="189.35" width="17.43" height="9.32" fill="#808080"/><rect x="-8.00" y="198.37" width="17.43" height="9.32" fill="#919191"/><rect x="9.13" y="198.37" width="9.43" height="9.32" fill="#4c4c4c"/><rect x="18.27" y="198.37" width="17.43" height="9.32" fill="#b5b5b5"/><rect x="-8.00" y="207.38" width="17.43" height="9.32" fill="#808080"/><rect x="9.13" y="207.38" width="9.43" height="9.32" fill="#4c4c4c"/><rect x="18.27" y="207.38" width="17.43" height="9.32" fill="#4c4c4c"/><rect x="-8.00" y="216.40" width="17.43" height="9.32" fill="#b5b5b5"/><rect x="9.13" y="216.40" width="9.43" height="9.32" fill="#4c4c4c"/><rect x="18.27" y="216.40" width="17.43" height="9.32" fill="#808080"/><rect x="-8.00" y="225.42" width="17.43" height="9.32" fill="#b5b5b5"/><rect x="9.13" y="225.42" width="9.43" height="9.32" fill="#4c4c4c"/><rect x="18.27" y="225.42" width="17.43" height="9.32" fill="#b5b5b5"/><rect x="-8.00" y="234.43" width="17.43" height="9.32" fill="#808080"/><rect x="9.13" y="234.43" width="9.43" height="9.32" fill="#4c4c4c"/><rect x="18.27" y="234.43" width="17.43" height="9.32" fill="#b5b5b5"/><rect x="-8.00" y="243.45" width="17.43" height="9.32" fill="#808080"/><rect x="9.13" y="243.45" width="9.43" height="9.32" fill="#202020"/><rect x="18.27" y="243.45" width="17.43" height="9.32" fill="#808080"/><rect x="-8.00" y="252.47" width="17.43" height="9.32" fill="#808080"/><rect x="9.13" y="252.47" width="9.43" height="9.32" fill="#666666"/><rect x="18.27" y="252.47" width="17.43" height="9.32" fill="#4c4c4c"/><rect x="-8.00" y="261.48" width="17.43" height="17.32" fill="#808080"/><rect x="9.13" y="261.48" width="9.43" height="17.32" fill="#b5b5b5"/><rect x="18.27" y="261.48" width="17.43" height="17.32" fill="#808080"/></g>
<rect width="27.4" height="270.5" fill="url(#edg)"/>
</g>
<g transform="translate(579.0 32.0)" clip-path="url(#sc)">
<g filter="url(#cf7)"><rect x="-8.00" y="-8.00" width="17.43" height="17.32" fill="#333333"/><rect x="9.13" y="-8.00" width="9.43" height="17.32" fill="#171717"/><rect x="18.27" y="-8.00" width="17.43" height="17.32" fill="#333333"/><rect x="-8.00" y="9.02" width="17.43" height="9.32" fill="#4c4c4c"/><rect x="9.13" y="9.02" width="9.43" height="9.32" fill="#171717"/><rect x="18.27" y="9.02" width="17.43" height="9.32" fill="#4c4c4c"/><rect x="-8.00" y="18.03" width="17.43" height="9.32" fill="#4c4c4c"/><rect x="9.13" y="18.03" width="9.43" height="9.32" fill="#171717"/><rect x="18.27" y="18.03" width="17.43" height="9.32" fill="#666666"/><rect x="-8.00" y="27.05" width="17.43" height="9.32" fill="#4c4c4c"/><rect x="9.13" y="27.05" width="9.43" height="9.32" fill="#171717"/><rect x="18.27" y="27.05" width="17.43" height="9.32" fill="#4c4c4c"/><rect x="-8.00" y="36.07" width="17.43" height="9.32" fill="#4c4c4c"/><rect x="9.13" y="36.07" width="9.43" height="9.32" fill="#171717"/><rect x="18.27" y="36.07" width="17.43" height="9.32" fill="#333333"/><rect x="-8.00" y="45.08" width="17.43" height="9.32" fill="#4c4c4c"/><rect x="9.13" y="45.08" width="9.43" height="9.32" fill="#171717"/><rect x="18.27" y="45.08" width="17.43" height="9.32" fill="#333333"/><rect x="-8.00" y="54.10" width="17.43" height="9.32" fill="#333333"/><rect x="9.13" y="54.10" width="9.43" height="9.32" fill="#171717"/><rect x="18.27" y="54.10" width="17.43" height="9.32" fill="#333333"/><rect x="-8.00" y="63.12" width="17.43" height="9.32" fill="#4c4c4c"/><rect x="9.13" y="63.12" width="9.43" height="9.32" fill="#171717"/><rect x="18.27" y="63.12" width="17.43" height="9.32" fill="#333333"/><rect x="-8.00" y="72.13" width="17.43" height="9.32" fill="#4c4c4c"/><rect x="9.13" y="72.13" width="9.43" height="9.32" fill="#171717"/><rect x="18.27" y="72.13" width="17.43" height="9.32" fill="#4c4c4c"/><rect x="-8.00" y="81.15" width="17.43" height="9.32" fill="#808080"/><rect x="9.13" y="81.15" width="9.43" height="9.32" fill="#171717"/><rect x="18.27" y="81.15" width="17.43" height="9.32" fill="#4c4c4c"/><rect x="-8.00" y="90.17" width="17.43" height="9.32" fill="#666666"/><rect x="9.13" y="90.17" width="9.43" height="9.32" fill="#4c4c4c"/><rect x="18.27" y="90.17" width="17.43" height="9.32" fill="#202020"/><rect x="-8.00" y="99.18" width="17.43" height="9.32" fill="#808080"/><rect x="9.13" y="99.18" width="9.43" height="9.32" fill="#202020"/><rect x="18.27" y="99.18" width="17.43" height="9.32" fill="#4c4c4c"/><rect x="-8.00" y="108.20" width="17.43" height="9.32" fill="#4c4c4c"/><rect x="9.13" y="108.20" width="9.43" height="9.32" fill="#4c4c4c"/><rect x="18.27" y="108.20" width="17.43" height="9.32" fill="#202020"/><rect x="-8.00" y="117.22" width="17.43" height="9.32" fill="#666666"/><rect x="9.13" y="117.22" width="9.43" height="9.32" fill="#333333"/><rect x="18.27" y="117.22" width="17.43" height="9.32" fill="#202020"/><rect x="-8.00" y="126.23" width="17.43" height="9.32" fill="#b5b5b5"/><rect x="9.13" y="126.23" width="9.43" height="9.32" fill="#4c4c4c"/><rect x="18.27" y="126.23" width="17.43" height="9.32" fill="#202020"/><rect x="-8.00" y="135.25" width="17.43" height="9.32" fill="#808080"/><rect x="9.13" y="135.25" width="9.43" height="9.32" fill="#4c4c4c"/><rect x="18.27" y="135.25" width="17.43" height="9.32" fill="#202020"/><rect x="-8.00" y="144.27" width="17.43" height="9.32" fill="#202020"/><rect x="9.13" y="144.27" width="9.43" height="9.32" fill="#202020"/><rect x="18.27" y="144.27" width="17.43" height="9.32" fill="#4c4c4c"/><rect x="-8.00" y="153.28" width="17.43" height="9.32" fill="#4c4c4c"/><rect x="9.13" y="153.28" width="9.43" height="9.32" fill="#202020"/><rect x="18.27" y="153.28" width="17.43" height="9.32" fill="#a1a1a1"/><rect x="-8.00" y="162.30" width="17.43" height="9.32" fill="#4c4c4c"/><rect x="9.13" y="162.30" width="9.43" height="9.32" fill="#171717"/><rect x="18.27" y="162.30" width="17.43" height="9.32" fill="#666666"/><rect x="-8.00" y="171.32" width="17.43" height="9.32" fill="#4c4c4c"/><rect x="9.13" y="171.32" width="9.43" height="9.32" fill="#171717"/><rect x="18.27" y="171.32" width="17.43" height="9.32" fill="#808080"/><rect x="-8.00" y="180.33" width="17.43" height="9.32" fill="#4c4c4c"/><rect x="9.13" y="180.33" width="9.43" height="9.32" fill="#171717"/><rect x="18.27" y="180.33" width="17.43" height="9.32" fill="#666666"/><rect x="-8.00" y="189.35" width="17.43" height="9.32" fill="#4c4c4c"/><rect x="9.13" y="189.35" width="9.43" height="9.32" fill="#171717"/><rect x="18.27" y="189.35" width="17.43" height="9.32" fill="#808080"/><rect x="-8.00" y="198.37" width="17.43" height="9.32" fill="#666666"/><rect x="9.13" y="198.37" width="9.43" height="9.32" fill="#171717"/><rect x="18.27" y="198.37" width="17.43" height="9.32" fill="#dbdbdb"/><rect x="-8.00" y="207.38" width="17.43" height="9.32" fill="#666666"/><rect x="9.13" y="207.38" width="9.43" height="9.32" fill="#171717"/><rect x="18.27" y="207.38" width="17.43" height="9.32" fill="#b5b5b5"/><rect x="-8.00" y="216.40" width="17.43" height="9.32" fill="#202020"/><rect x="9.13" y="216.40" width="9.43" height="9.32" fill="#666666"/><rect x="18.27" y="216.40" width="17.43" height="9.32" fill="#4c4c4c"/><rect x="-8.00" y="225.42" width="17.43" height="9.32" fill="#171717"/><rect x="9.13" y="225.42" width="9.43" height="9.32" fill="#919191"/><rect x="18.27" y="225.42" width="17.43" height="9.32" fill="#4c4c4c"/><rect x="-8.00" y="234.43" width="17.43" height="9.32" fill="#4c4c4c"/><rect x="9.13" y="234.43" width="9.43" height="9.32" fill="#919191"/><rect x="18.27" y="234.43" width="17.43" height="9.32" fill="#808080"/><rect x="-8.00" y="243.45" width="17.43" height="9.32" fill="#171717"/><rect x="9.13" y="243.45" width="9.43" height="9.32" fill="#808080"/><rect x="18.27" y="243.45" width="17.43" height="9.32" fill="#b5b5b5"/><rect x="-8.00" y="252.47" width="17.43" height="9.32" fill="#171717"/><rect x="9.13" y="252.47" width="9.43" height="9.32" fill="#666666"/><rect x="18.27" y="252.47" width="17.43" height="9.32" fill="#808080"/><rect x="-8.00" y="261.48" width="17.43" height="17.32" fill="#171717"/><rect x="9.13" y="261.48" width="9.43" height="17.32" fill="#171717"/><rect x="18.27" y="261.48" width="17.43" height="17.32" fill="#4c4c4c"/></g>
<rect width="27.4" height="270.5" fill="url(#edg)"/>
<ellipse cx="17.0" cy="271" rx="3.0" ry="3" fill="#fff" filter="url(#nb)"/>
</g>
<g transform="translate(629.3 32.0)" clip-path="url(#sc)">
<g filter="url(#cf8)"><rect x="-8.00" y="-8.00" width="17.43" height="17.32" fill="#1a1a1a"/><rect x="9.13" y="-8.00" width="9.43" height="17.32" fill="#0d0d0d"/><rect x="18.27" y="-8.00" width="17.43" height="17.32" fill="#1a1a1a"/><rect x="-8.00" y="9.02" width="17.43" height="9.32" fill="#1a1a1a"/><rect x="9.13" y="9.02" width="9.43" height="9.32" fill="#0d0d0d"/><rect x="18.27" y="9.02" width="17.43" height="9.32" fill="#1a1a1a"/><rect x="-8.00" y="18.03" width="17.43" height="9.32" fill="#1a1a1a"/><rect x="9.13" y="18.03" width="9.43" height="9.32" fill="#0d0d0d"/><rect x="18.27" y="18.03" width="17.43" height="9.32" fill="#1a1a1a"/><rect x="-8.00" y="27.05" width="17.43" height="9.32" fill="#1a1a1a"/><rect x="9.13" y="27.05" width="9.43" height="9.32" fill="#0d0d0d"/><rect x="18.27" y="27.05" width="17.43" height="9.32" fill="#1a1a1a"/><rect x="-8.00" y="36.07" width="17.43" height="9.32" fill="#1a1a1a"/><rect x="9.13" y="36.07" width="9.43" height="9.32" fill="#0d0d0d"/><rect x="18.27" y="36.07" width="17.43" height="9.32" fill="#1a1a1a"/><rect x="-8.00" y="45.08" width="17.43" height="9.32" fill="#1a1a1a"/><rect x="9.13" y="45.08" width="9.43" height="9.32" fill="#0d0d0d"/><rect x="18.27" y="45.08" width="17.43" height="9.32" fill="#1a1a1a"/><rect x="-8.00" y="54.10" width="17.43" height="9.32" fill="#1a1a1a"/><rect x="9.13" y="54.10" width="9.43" height="9.32" fill="#0d0d0d"/><rect x="18.27" y="54.10" width="17.43" height="9.32" fill="#1a1a1a"/><rect x="-8.00" y="63.12" width="17.43" height="9.32" fill="#1a1a1a"/><rect x="9.13" y="63.12" width="9.43" height="9.32" fill="#0d0d0d"/><rect x="18.27" y="63.12" width="17.43" height="9.32" fill="#1a1a1a"/><rect x="-8.00" y="72.13" width="17.43" height="9.32" fill="#1a1a1a"/><rect x="9.13" y="72.13" width="9.43" height="9.32" fill="#0d0d0d"/><rect x="18.27" y="72.13" width="17.43" height="9.32" fill="#1a1a1a"/><rect x="-8.00" y="81.15" width="17.43" height="9.32" fill="#0d0d0d"/><rect x="9.13" y="81.15" width="9.43" height="9.32" fill="#0d0d0d"/><rect x="18.27" y="81.15" width="17.43" height="9.32" fill="#1a1a1a"/><rect x="-8.00" y="90.17" width="17.43" height="9.32" fill="#1a1a1a"/><rect x="9.13" y="90.17" width="9.43" height="9.32" fill="#0d0d0d"/><rect x="18.27" y="90.17" width="17.43" height="9.32" fill="#1a1a1a"/><rect x="-8.00" y="99.18" width="17.43" height="9.32" fill="#1a1a1a"/><rect x="9.13" y="99.18" width="9.43" height="9.32" fill="#0d0d0d"/><rect x="18.27" y="99.18" width="17.43" height="9.32" fill="#1a1a1a"/><rect x="-8.00" y="108.20" width="17.43" height="9.32" fill="#1a1a1a"/><rect x="9.13" y="108.20" width="9.43" height="9.32" fill="#333333"/><rect x="18.27" y="108.20" width="17.43" height="9.32" fill="#1a1a1a"/><rect x="-8.00" y="117.22" width="17.43" height="9.32" fill="#333333"/><rect x="9.13" y="117.22" width="9.43" height="9.32" fill="#333333"/><rect x="18.27" y="117.22" width="17.43" height="9.32" fill="#1a1a1a"/><rect x="-8.00" y="126.23" width="17.43" height="9.32" fill="#333333"/><rect x="9.13" y="126.23" width="9.43" height="9.32" fill="#333333"/><rect x="18.27" y="126.23" width="17.43" height="9.32" fill="#333333"/><rect x="-8.00" y="135.25" width="17.43" height="9.32" fill="#333333"/><rect x="9.13" y="135.25" width="9.43" height="9.32" fill="#333333"/><rect x="18.27" y="135.25" width="17.43" height="9.32" fill="#4c4c4c"/><rect x="-8.00" y="144.27" width="17.43" height="9.32" fill="#4c4c4c"/><rect x="9.13" y="144.27" width="9.43" height="9.32" fill="#333333"/><rect x="18.27" y="144.27" width="17.43" height="9.32" fill="#333333"/><rect x="-8.00" y="153.28" width="17.43" height="9.32" fill="#666666"/><rect x="9.13" y="153.28" width="9.43" height="9.32" fill="#333333"/><rect x="18.27" y="153.28" width="17.43" height="9.32" fill="#4c4c4c"/><rect x="-8.00" y="162.30" width="17.43" height="9.32" fill="#808080"/><rect x="9.13" y="162.30" width="9.43" height="9.32" fill="#4c4c4c"/><rect x="18.27" y="162.30" width="17.43" height="9.32" fill="#4c4c4c"/><rect x="-8.00" y="171.32" width="17.43" height="9.32" fill="#808080"/><rect x="9.13" y="171.32" width="9.43" height="9.32" fill="#666666"/><rect x="18.27" y="171.32" width="17.43" height="9.32" fill="#666666"/><rect x="-8.00" y="180.33" width="17.43" height="9.32" fill="#808080"/><rect x="9.13" y="180.33" width="9.43" height="9.32" fill="#808080"/><rect x="18.27" y="180.33" width="17.43" height="9.32" fill="#808080"/><rect x="-8.00" y="189.35" width="17.43" height="9.32" fill="#808080"/><rect x="9.13" y="189.35" width="9.43" height="9.32" fill="#b5b5b5"/><rect x="18.27" y="189.35" width="17.43" height="9.32" fill="#dbdbdb"/><rect x="-8.00" y="198.37" width="17.43" height="9.32" fill="#a1a1a1"/><rect x="9.13" y="198.37" width="9.43" height="9.32" fill="#b5b5b5"/><rect x="18.27" y="198.37" width="17.43" height="9.32" fill="#dbdbdb"/><rect x="-8.00" y="207.38" width="17.43" height="9.32" fill="#b5b5b5"/><rect x="9.13" y="207.38" width="9.43" height="9.32" fill="#a1a1a1"/><rect x="18.27" y="207.38" width="17.43" height="9.32" fill="#b5b5b5"/><rect x="-8.00" y="216.40" width="17.43" height="9.32" fill="#b5b5b5"/><rect x="9.13" y="216.40" width="9.43" height="9.32" fill="#4c4c4c"/><rect x="18.27" y="216.40" width="17.43" height="9.32" fill="#a1a1a1"/><rect x="-8.00" y="225.42" width="17.43" height="9.32" fill="#808080"/><rect x="9.13" y="225.42" width="9.43" height="9.32" fill="#4c4c4c"/><rect x="18.27" y="225.42" width="17.43" height="9.32" fill="#b5b5b5"/><rect x="-8.00" y="234.43" width="17.43" height="9.32" fill="#4c4c4c"/><rect x="9.13" y="234.43" width="9.43" height="9.32" fill="#4c4c4c"/><rect x="18.27" y="234.43" width="17.43" height="9.32" fill="#a1a1a1"/><rect x="-8.00" y="243.45" width="17.43" height="9.32" fill="#808080"/><rect x="9.13" y="243.45" width="9.43" height="9.32" fill="#a1a1a1"/><rect x="18.27" y="243.45" width="17.43" height="9.32" fill="#b5b5b5"/><rect x="-8.00" y="252.47" width="17.43" height="9.32" fill="#b5b5b5"/><rect x="9.13" y="252.47" width="9.43" height="9.32" fill="#a1a1a1"/><rect x="18.27" y="252.47" width="17.43" height="9.32" fill="#dbdbdb"/><rect x="-8.00" y="261.48" width="17.43" height="17.32" fill="#808080"/><rect x="9.13" y="261.48" width="9.43" height="17.32" fill="#b5b5b5"/><rect x="18.27" y="261.48" width="17.43" height="17.32" fill="#dbdbdb"/></g>
<rect width="27.4" height="270.5" fill="url(#edg)"/>
</g>
<g transform="translate(665.6 32.0)" clip-path="url(#sc)">
<g filter="url(#cf9)"><rect x="-8.00" y="-8.00" width="17.43" height="17.32" fill="#1a1a1a"/><rect x="9.13" y="-8.00" width="9.43" height="17.32" fill="#0d0d0d"/><rect x="18.27" y="-8.00" width="17.43" height="17.32" fill="#1a1a1a"/><rect x="-8.00" y="9.02" width="17.43" height="9.32" fill="#1a1a1a"/><rect x="9.13" y="9.02" width="9.43" height="9.32" fill="#0d0d0d"/><rect x="18.27" y="9.02" width="17.43" height="9.32" fill="#1a1a1a"/><rect x="-8.00" y="18.03" width="17.43" height="9.32" fill="#1a1a1a"/><rect x="9.13" y="18.03" width="9.43" height="9.32" fill="#0d0d0d"/><rect x="18.27" y="18.03" width="17.43" height="9.32" fill="#1a1a1a"/><rect x="-8.00" y="27.05" width="17.43" height="9.32" fill="#1a1a1a"/><rect x="9.13" y="27.05" width="9.43" height="9.32" fill="#0d0d0d"/><rect x="18.27" y="27.05" width="17.43" height="9.32" fill="#1a1a1a"/><rect x="-8.00" y="36.07" width="17.43" height="9.32" fill="#1a1a1a"/><rect x="9.13" y="36.07" width="9.43" height="9.32" fill="#0d0d0d"/><rect x="18.27" y="36.07" width="17.43" height="9.32" fill="#1a1a1a"/><rect x="-8.00" y="45.08" width="17.43" height="9.32" fill="#1a1a1a"/><rect x="9.13" y="45.08" width="9.43" height="9.32" fill="#0d0d0d"/><rect x="18.27" y="45.08" width="17.43" height="9.32" fill="#1a1a1a"/><rect x="-8.00" y="54.10" width="17.43" height="9.32" fill="#1a1a1a"/><rect x="9.13" y="54.10" width="9.43" height="9.32" fill="#0d0d0d"/><rect x="18.27" y="54.10" width="17.43" height="9.32" fill="#1a1a1a"/><rect x="-8.00" y="63.12" width="17.43" height="9.32" fill="#1a1a1a"/><rect x="9.13" y="63.12" width="9.43" height="9.32" fill="#0d0d0d"/><rect x="18.27" y="63.12" width="17.43" height="9.32" fill="#1a1a1a"/><rect x="-8.00" y="72.13" width="17.43" height="9.32" fill="#1a1a1a"/><rect x="9.13" y="72.13" width="9.43" height="9.32" fill="#0d0d0d"/><rect x="18.27" y="72.13" width="17.43" height="9.32" fill="#1a1a1a"/><rect x="-8.00" y="81.15" width="17.43" height="9.32" fill="#1a1a1a"/><rect x="9.13" y="81.15" width="9.43" height="9.32" fill="#0d0d0d"/><rect x="18.27" y="81.15" width="17.43" height="9.32" fill="#1a1a1a"/><rect x="-8.00" y="90.17" width="17.43" height="9.32" fill="#1a1a1a"/><rect x="9.13" y="90.17" width="9.43" height="9.32" fill="#0d0d0d"/><rect x="18.27" y="90.17" width="17.43" height="9.32" fill="#1a1a1a"/><rect x="-8.00" y="99.18" width="17.43" height="9.32" fill="#1a1a1a"/><rect x="9.13" y="99.18" width="9.43" height="9.32" fill="#0d0d0d"/><rect x="18.27" y="99.18" width="17.43" height="9.32" fill="#1a1a1a"/><rect x="-8.00" y="108.20" width="17.43" height="9.32" fill="#1a1a1a"/><rect x="9.13" y="108.20" width="9.43" height="9.32" fill="#333333"/><rect x="18.27" y="108.20" width="17.43" height="9.32" fill="#1a1a1a"/><rect x="-8.00" y="117.22" width="17.43" height="9.32" fill="#333333"/><rect x="9.13" y="117.22" width="9.43" height="9.32" fill="#333333"/><rect x="18.27" y="117.22" width="17.43" height="9.32" fill="#1a1a1a"/><rect x="-8.00" y="126.23" width="17.43" height="9.32" fill="#333333"/><rect x="9.13" y="126.23" width="9.43" height="9.32" fill="#4c4c4c"/><rect x="18.27" y="126.23" width="17.43" height="9.32" fill="#333333"/><rect x="-8.00" y="135.25" width="17.43" height="9.32" fill="#333333"/><rect x="9.13" y="135.25" width="9.43" height="9.32" fill="#4c4c4c"/><rect x="18.27" y="135.25" width="17.43" height="9.32" fill="#333333"/><rect x="-8.00" y="144.27" width="17.43" height="9.32" fill="#4c4c4c"/><rect x="9.13" y="144.27" width="9.43" height="9.32" fill="#333333"/><rect x="18.27" y="144.27" width="17.43" height="9.32" fill="#333333"/><rect x="-8.00" y="153.28" width="17.43" height="9.32" fill="#666666"/><rect x="9.13" y="153.28" width="9.43" height="9.32" fill="#4c4c4c"/><rect x="18.27" y="153.28" width="17.43" height="9.32" fill="#4c4c4c"/><rect x="-8.00" y="162.30" width="17.43" height="9.32" fill="#808080"/><rect x="9.13" y="162.30" width="9.43" height="9.32" fill="#666666"/><rect x="18.27" y="162.30" width="17.43" height="9.32" fill="#4c4c4c"/><rect x="-8.00" y="171.32" width="17.43" height="9.32" fill="#919191"/><rect x="9.13" y="171.32" width="9.43" height="9.32" fill="#666666"/><rect x="18.27" y="171.32" width="17.43" height="9.32" fill="#4c4c4c"/><rect x="-8.00" y="180.33" width="17.43" height="9.32" fill="#808080"/><rect x="9.13" y="180.33" width="9.43" height="9.32" fill="#808080"/><rect x="18.27" y="180.33" width="17.43" height="9.32" fill="#666666"/><rect x="-8.00" y="189.35" width="17.43" height="9.32" fill="#808080"/><rect x="9.13" y="189.35" width="9.43" height="9.32" fill="#808080"/><rect x="18.27" y="189.35" width="17.43" height="9.32" fill="#b5b5b5"/><rect x="-8.00" y="198.37" width="17.43" height="9.32" fill="#808080"/><rect x="9.13" y="198.37" width="9.43" height="9.32" fill="#666666"/><rect x="18.27" y="198.37" width="17.43" height="9.32" fill="#dbdbdb"/><rect x="-8.00" y="207.38" width="17.43" height="9.32" fill="#808080"/><rect x="9.13" y="207.38" width="9.43" height="9.32" fill="#a1a1a1"/><rect x="18.27" y="207.38" width="17.43" height="9.32" fill="#b5b5b5"/><rect x="-8.00" y="216.40" width="17.43" height="9.32" fill="#808080"/><rect x="9.13" y="216.40" width="9.43" height="9.32" fill="#a1a1a1"/><rect x="18.27" y="216.40" width="17.43" height="9.32" fill="#4c4c4c"/><rect x="-8.00" y="225.42" width="17.43" height="9.32" fill="#b5b5b5"/><rect x="9.13" y="225.42" width="9.43" height="9.32" fill="#dbdbdb"/><rect x="18.27" y="225.42" width="17.43" height="9.32" fill="#4c4c4c"/><rect x="-8.00" y="234.43" width="17.43" height="9.32" fill="#dbdbdb"/><rect x="9.13" y="234.43" width="9.43" height="9.32" fill="#b5b5b5"/><rect x="18.27" y="234.43" width="17.43" height="9.32" fill="#a1a1a1"/><rect x="-8.00" y="243.45" width="17.43" height="9.32" fill="#b5b5b5"/><rect x="9.13" y="243.45" width="9.43" height="9.32" fill="#1a1a1a"/><rect x="18.27" y="243.45" width="17.43" height="9.32" fill="#4c4c4c"/><rect x="-8.00" y="252.47" width="17.43" height="9.32" fill="#b5b5b5"/><rect x="9.13" y="252.47" width="9.43" height="9.32" fill="#1a1a1a"/><rect x="18.27" y="252.47" width="17.43" height="9.32" fill="#666666"/><rect x="-8.00" y="261.48" width="17.43" height="17.32" fill="#808080"/><rect x="9.13" y="261.48" width="9.43" height="17.32" fill="#a1a1a1"/><rect x="18.27" y="261.48" width="17.43" height="17.32" fill="#808080"/></g>
<rect width="27.4" height="270.5" fill="url(#edg)"/>
</g>
<g transform="translate(702.0 32.0)" clip-path="url(#sc)">
<g filter="url(#cf10)"><rect x="-8.00" y="-8.00" width="17.43" height="17.32" fill="#1a1a1a"/><rect x="9.13" y="-8.00" width="9.43" height="17.32" fill="#0d0d0d"/><rect x="18.27" y="-8.00" width="17.43" height="17.32" fill="#1a1a1a"/><rect x="-8.00" y="9.02" width="17.43" height="9.32" fill="#1a1a1a"/><rect x="9.13" y="9.02" width="9.43" height="9.32" fill="#0d0d0d"/><rect x="18.27" y="9.02" width="17.43" height="9.32" fill="#1a1a1a"/><rect x="-8.00" y="18.03" width="17.43" height="9.32" fill="#1a1a1a"/><rect x="9.13" y="18.03" width="9.43" height="9.32" fill="#0d0d0d"/><rect x="18.27" y="18.03" width="17.43" height="9.32" fill="#1a1a1a"/><rect x="-8.00" y="27.05" width="17.43" height="9.32" fill="#1a1a1a"/><rect x="9.13" y="27.05" width="9.43" height="9.32" fill="#0d0d0d"/><rect x="18.27" y="27.05" width="17.43" height="9.32" fill="#1a1a1a"/><rect x="-8.00" y="36.07" width="17.43" height="9.32" fill="#1a1a1a"/><rect x="9.13" y="36.07" width="9.43" height="9.32" fill="#0d0d0d"/><rect x="18.27" y="36.07" width="17.43" height="9.32" fill="#1a1a1a"/><rect x="-8.00" y="45.08" width="17.43" height="9.32" fill="#1a1a1a"/><rect x="9.13" y="45.08" width="9.43" height="9.32" fill="#0d0d0d"/><rect x="18.27" y="45.08" width="17.43" height="9.32" fill="#1a1a1a"/><rect x="-8.00" y="54.10" width="17.43" height="9.32" fill="#1a1a1a"/><rect x="9.13" y="54.10" width="9.43" height="9.32" fill="#0d0d0d"/><rect x="18.27" y="54.10" width="17.43" height="9.32" fill="#1a1a1a"/><rect x="-8.00" y="63.12" width="17.43" height="9.32" fill="#1a1a1a"/><rect x="9.13" y="63.12" width="9.43" height="9.32" fill="#0d0d0d"/><rect x="18.27" y="63.12" width="17.43" height="9.32" fill="#1a1a1a"/><rect x="-8.00" y="72.13" width="17.43" height="9.32" fill="#1a1a1a"/><rect x="9.13" y="72.13" width="9.43" height="9.32" fill="#0d0d0d"/><rect x="18.27" y="72.13" width="17.43" height="9.32" fill="#1a1a1a"/><rect x="-8.00" y="81.15" width="17.43" height="9.32" fill="#1a1a1a"/><rect x="9.13" y="81.15" width="9.43" height="9.32" fill="#0d0d0d"/><rect x="18.27" y="81.15" width="17.43" height="9.32" fill="#1a1a1a"/><rect x="-8.00" y="90.17" width="17.43" height="9.32" fill="#1a1a1a"/><rect x="9.13" y="90.17" width="9.43" height="9.32" fill="#0d0d0d"/><rect x="18.27" y="90.17" width="17.43" height="9.32" fill="#1a1a1a"/><rect x="-8.00" y="99.18" width="17.43" height="9.32" fill="#1a1a1a"/><rect x="9.13" y="99.18" width="9.43" height="9.32" fill="#0d0d0d"/><rect x="18.27" y="99.18" width="17.43" height="9.32" fill="#1a1a1a"/><rect x="-8.00" y="108.20" width="17.43" height="9.32" fill="#1a1a1a"/><rect x="9.13" y="108.20" width="9.43" height="9.32" fill="#0d0d0d"/><rect x="18.27" y="108.20" width="17.43" height="9.32" fill="#1a1a1a"/><rect x="-8.00" y="117.22" width="17.43" height="9.32" fill="#1a1a1a"/><rect x="9.13" y="117.22" width="9.43" height="9.32" fill="#333333"/><rect x="18.27" y="117.22" width="17.43" height="9.32" fill="#1a1a1a"/><rect x="-8.00" y="126.23" width="17.43" height="9.32" fill="#4c4c4c"/><rect x="9.13" y="126.23" width="9.43" height="9.32" fill="#333333"/><rect x="18.27" y="126.23" width="17.43" height="9.32" fill="#1a1a1a"/><rect x="-8.00" y="135.25" width="17.43" height="9.32" fill="#666666"/><rect x="9.13" y="135.25" width="9.43" height="9.32" fill="#333333"/><rect x="18.27" y="135.25" width="17.43" height="9.32" fill="#1a1a1a"/><rect x="-8.00" y="144.27" width="17.43" height="9.32" fill="#4c4c4c"/><rect x="9.13" y="144.27" width="9.43" height="9.32" fill="#333333"/><rect x="18.27" y="144.27" width="17.43" height="9.32" fill="#333333"/><rect x="-8.00" y="153.28" width="17.43" height="9.32" fill="#4c4c4c"/><rect x="9.13" y="153.28" width="9.43" height="9.32" fill="#4c4c4c"/><rect x="18.27" y="153.28" width="17.43" height="9.32" fill="#333333"/><rect x="-8.00" y="162.30" width="17.43" height="9.32" fill="#666666"/><rect x="9.13" y="162.30" width="9.43" height="9.32" fill="#4c4c4c"/><rect x="18.27" y="162.30" width="17.43" height="9.32" fill="#4c4c4c"/><rect x="-8.00" y="171.32" width="17.43" height="9.32" fill="#dbdbdb"/><rect x="9.13" y="171.32" width="9.43" height="9.32" fill="#b5b5b5"/><rect x="18.27" y="171.32" width="17.43" height="9.32" fill="#666666"/><rect x="-8.00" y="180.33" width="17.43" height="9.32" fill="#808080"/><rect x="9.13" y="180.33" width="9.43" height="9.32" fill="#919191"/><rect x="18.27" y="180.33" width="17.43" height="9.32" fill="#dbdbdb"/><rect x="-8.00" y="189.35" width="17.43" height="9.32" fill="#808080"/><rect x="9.13" y="189.35" width="9.43" height="9.32" fill="#666666"/><rect x="18.27" y="189.35" width="17.43" height="9.32" fill="#dbdbdb"/><rect x="-8.00" y="198.37" width="17.43" height="9.32" fill="#919191"/><rect x="9.13" y="198.37" width="9.43" height="9.32" fill="#4c4c4c"/><rect x="18.27" y="198.37" width="17.43" height="9.32" fill="#dbdbdb"/><rect x="-8.00" y="207.38" width="17.43" height="9.32" fill="#808080"/><rect x="9.13" y="207.38" width="9.43" height="9.32" fill="#4c4c4c"/><rect x="18.27" y="207.38" width="17.43" height="9.32" fill="#b5b5b5"/><rect x="-8.00" y="216.40" width="17.43" height="9.32" fill="#666666"/><rect x="9.13" y="216.40" width="9.43" height="9.32" fill="#808080"/><rect x="18.27" y="216.40" width="17.43" height="9.32" fill="#b5b5b5"/><rect x="-8.00" y="225.42" width="17.43" height="9.32" fill="#808080"/><rect x="9.13" y="225.42" width="9.43" height="9.32" fill="#b5b5b5"/><rect x="18.27" y="225.42" width="17.43" height="9.32" fill="#dbdbdb"/><rect x="-8.00" y="234.43" width="17.43" height="9.32" fill="#4c4c4c"/><rect x="9.13" y="234.43" width="9.43" height="9.32" fill="#dbdbdb"/><rect x="18.27" y="234.43" width="17.43" height="9.32" fill="#b5b5b5"/><rect x="-8.00" y="243.45" width="17.43" height="9.32" fill="#b5b5b5"/><rect x="9.13" y="243.45" width="9.43" height="9.32" fill="#a1a1a1"/><rect x="18.27" y="243.45" width="17.43" height="9.32" fill="#808080"/><rect x="-8.00" y="252.47" width="17.43" height="9.32" fill="#b5b5b5"/><rect x="9.13" y="252.47" width="9.43" height="9.32" fill="#4c4c4c"/><rect x="18.27" y="252.47" width="17.43" height="9.32" fill="#dbdbdb"/><rect x="-8.00" y="261.48" width="17.43" height="17.32" fill="#808080"/><rect x="9.13" y="261.48" width="9.43" height="17.32" fill="#4c4c4c"/><rect x="18.27" y="261.48" width="17.43" height="17.32" fill="#a1a1a1"/></g>
<rect width="27.4" height="270.5" fill="url(#edg)"/>
</g>
<g transform="translate(738.6 32.0)" clip-path="url(#sc)">
<g filter="url(#cf11)"><rect x="-8.00" y="-8.00" width="17.43" height="17.32" fill="#1a1a1a"/><rect x="9.13" y="-8.00" width="9.43" height="17.32" fill="#0d0d0d"/><rect x="18.27" y="-8.00" width="17.43" height="17.32" fill="#1a1a1a"/><rect x="-8.00" y="9.02" width="17.43" height="9.32" fill="#1a1a1a"/><rect x="9.13" y="9.02" width="9.43" height="9.32" fill="#0d0d0d"/><rect x="18.27" y="9.02" width="17.43" height="9.32" fill="#1a1a1a"/><rect x="-8.00" y="18.03" width="17.43" height="9.32" fill="#333333"/><rect x="9.13" y="18.03" width="9.43" height="9.32" fill="#0d0d0d"/><rect x="18.27" y="18.03" width="17.43" height="9.32" fill="#1a1a1a"/><rect x="-8.00" y="27.05" width="17.43" height="9.32" fill="#333333"/><rect x="9.13" y="27.05" width="9.43" height="9.32" fill="#0d0d0d"/><rect x="18.27" y="27.05" width="17.43" height="9.32" fill="#1a1a1a"/><rect x="-8.00" y="36.07" width="17.43" height="9.32" fill="#333333"/><rect x="9.13" y="36.07" width="9.43" height="9.32" fill="#0d0d0d"/><rect x="18.27" y="36.07" width="17.43" height="9.32" fill="#1a1a1a"/><rect x="-8.00" y="45.08" width="17.43" height="9.32" fill="#333333"/><rect x="9.13" y="45.08" width="9.43" height="9.32" fill="#0d0d0d"/><rect x="18.27" y="45.08" width="17.43" height="9.32" fill="#1a1a1a"/><rect x="-8.00" y="54.10" width="17.43" height="9.32" fill="#333333"/><rect x="9.13" y="54.10" width="9.43" height="9.32" fill="#0d0d0d"/><rect x="18.27" y="54.10" width="17.43" height="9.32" fill="#1a1a1a"/><rect x="-8.00" y="63.12" width="17.43" height="9.32" fill="#333333"/><rect x="9.13" y="63.12" width="9.43" height="9.32" fill="#0d0d0d"/><rect x="18.27" y="63.12" width="17.43" height="9.32" fill="#1a1a1a"/><rect x="-8.00" y="72.13" width="17.43" height="9.32" fill="#333333"/><rect x="9.13" y="72.13" width="9.43" height="9.32" fill="#0d0d0d"/><rect x="18.27" y="72.13" width="17.43" height="9.32" fill="#1a1a1a"/><rect x="-8.00" y="81.15" width="17.43" height="9.32" fill="#333333"/><rect x="9.13" y="81.15" width="9.43" height="9.32" fill="#0d0d0d"/><rect x="18.27" y="81.15" width="17.43" height="9.32" fill="#1a1a1a"/><rect x="-8.00" y="90.17" width="17.43" height="9.32" fill="#333333"/><rect x="9.13" y="90.17" width="9.43" height="9.32" fill="#0d0d0d"/><rect x="18.27" y="90.17" width="17.43" height="9.32" fill="#1a1a1a"/><rect x="-8.00" y="99.18" width="17.43" height="9.32" fill="#333333"/><rect x="9.13" y="99.18" width="9.43" height="9.32" fill="#0d0d0d"/><rect x="18.27" y="99.18" width="17.43" height="9.32" fill="#1a1a1a"/><rect x="-8.00" y="108.20" width="17.43" height="9.32" fill="#333333"/><rect x="9.13" y="108.20" width="9.43" height="9.32" fill="#333333"/><rect x="18.27" y="108.20" width="17.43" height="9.32" fill="#1a1a1a"/><rect x="-8.00" y="117.22" width="17.43" height="9.32" fill="#333333"/><rect x="9.13" y="117.22" width="9.43" height="9.32" fill="#333333"/><rect x="18.27" y="117.22" width="17.43" height="9.32" fill="#333333"/><rect x="-8.00" y="126.23" width="17.43" height="9.32" fill="#333333"/><rect x="9.13" y="126.23" width="9.43" height="9.32" fill="#333333"/><rect x="18.27" y="126.23" width="17.43" height="9.32" fill="#333333"/><rect x="-8.00" y="135.25" width="17.43" height="9.32" fill="#4c4c4c"/><rect x="9.13" y="135.25" width="9.43" height="9.32" fill="#333333"/><rect x="18.27" y="135.25" width="17.43" height="9.32" fill="#4c4c4c"/><rect x="-8.00" y="144.27" width="17.43" height="9.32" fill="#4c4c4c"/><rect x="9.13" y="144.27" width="9.43" height="9.32" fill="#1a1a1a"/><rect x="18.27" y="144.27" width="17.43" height="9.32" fill="#333333"/><rect x="-8.00" y="153.28" width="17.43" height="9.32" fill="#4c4c4c"/><rect x="9.13" y="153.28" width="9.43" height="9.32" fill="#333333"/><rect x="18.27" y="153.28" width="17.43" height="9.32" fill="#4c4c4c"/><rect x="-8.00" y="162.30" width="17.43" height="9.32" fill="#4c4c4c"/><rect x="9.13" y="162.30" width="9.43" height="9.32" fill="#333333"/><rect x="18.27" y="162.30" width="17.43" height="9.32" fill="#4c4c4c"/><rect x="-8.00" y="171.32" width="17.43" height="9.32" fill="#666666"/><rect x="9.13" y="171.32" width="9.43" height="9.32" fill="#4c4c4c"/><rect x="18.27" y="171.32" width="17.43" height="9.32" fill="#4c4c4c"/><rect x="-8.00" y="180.33" width="17.43" height="9.32" fill="#808080"/><rect x="9.13" y="180.33" width="9.43" height="9.32" fill="#4c4c4c"/><rect x="18.27" y="180.33" width="17.43" height="9.32" fill="#666666"/><rect x="-8.00" y="189.35" width="17.43" height="9.32" fill="#808080"/><rect x="9.13" y="189.35" width="9.43" height="9.32" fill="#666666"/><rect x="18.27" y="189.35" width="17.43" height="9.32" fill="#808080"/><rect x="-8.00" y="198.37" width="17.43" height="9.32" fill="#808080"/><rect x="9.13" y="198.37" width="9.43" height="9.32" fill="#666666"/><rect x="18.27" y="198.37" width="17.43" height="9.32" fill="#b5b5b5"/><rect x="-8.00" y="207.38" width="17.43" height="9.32" fill="#919191"/><rect x="9.13" y="207.38" width="9.43" height="9.32" fill="#666666"/><rect x="18.27" y="207.38" width="17.43" height="9.32" fill="#b5b5b5"/><rect x="-8.00" y="216.40" width="17.43" height="9.32" fill="#808080"/><rect x="9.13" y="216.40" width="9.43" height="9.32" fill="#808080"/><rect x="18.27" y="216.40" width="17.43" height="9.32" fill="#4c4c4c"/><rect x="-8.00" y="225.42" width="17.43" height="9.32" fill="#919191"/><rect x="9.13" y="225.42" width="9.43" height="9.32" fill="#a1a1a1"/><rect x="18.27" y="225.42" width="17.43" height="9.32" fill="#b5b5b5"/><rect x="-8.00" y="234.43" width="17.43" height="9.32" fill="#a1a1a1"/><rect x="9.13" y="234.43" width="9.43" height="9.32" fill="#b5b5b5"/><rect x="18.27" y="234.43" width="17.43" height="9.32" fill="#808080"/><rect x="-8.00" y="243.45" width="17.43" height="9.32" fill="#dbdbdb"/><rect x="9.13" y="243.45" width="9.43" height="9.32" fill="#4c4c4c"/><rect x="18.27" y="243.45" width="17.43" height="9.32" fill="#b5b5b5"/><rect x="-8.00" y="252.47" width="17.43" height="9.32" fill="#dbdbdb"/><rect x="9.13" y="252.47" width="9.43" height="9.32" fill="#dbdbdb"/><rect x="18.27" y="252.47" width="17.43" height="9.32" fill="#808080"/><rect x="-8.00" y="261.48" width="17.43" height="17.32" fill="#4c4c4c"/><rect x="9.13" y="261.48" width="9.43" height="17.32" fill="#a1a1a1"/><rect x="18.27" y="261.48" width="17.43" height="17.32" fill="#808080"/><rect x="-8" y="8" width="10.2" height="160" fill="#4c4c4c"/><rect x="25.2" y="-8" width="10" height="170" fill="#4c4c4c"/></g>
<rect width="27.4" height="270.5" fill="url(#edg)"/>
</g>
<defs><linearGradient id="cbar" x1="0" y1="0" x2="0" y2="1">
<stop offset="0" stop-color="#e040e8"/>
<stop offset="0.011" stop-color="#e83aa0"/>
<stop offset="0.016" stop-color="#f41818"/>
<stop offset="0.085" stop-color="#f42a10"/>
<stop offset="0.196" stop-color="#f49a08"/>
<stop offset="0.275" stop-color="#f4f010"/>
<stop offset="0.323" stop-color="#c4f010"/>
<stop offset="0.41" stop-color="#44ec10"/>
<stop offset="0.5" stop-color="#10e820"/>
<stop offset="0.6" stop-color="#10e880"/>
<stop offset="0.688" stop-color="#10eccc"/>
<stop offset="0.75" stop-color="#10f0f0"/>
<stop offset="0.82" stop-color="#10b4f4"/>
<stop offset="0.895" stop-color="#1864f0"/>
<stop offset="1" stop-color="#1414e0"/>
</linearGradient></defs>
<rect x="788.3" y="48.6" width="6.7" height="252" fill="url(#cbar)"/>
<g stroke="#333" stroke-width="0.8">
<line x1="795" y1="52.0" x2="799.5" y2="52.0"/>
<line x1="795" y1="76.6" x2="799.5" y2="76.6"/>
<line x1="795" y1="101.3" x2="799.5" y2="101.3"/>
<line x1="795" y1="125.9" x2="799.5" y2="125.9"/>
<line x1="795" y1="150.6" x2="799.5" y2="150.6"/>
<line x1="795" y1="175.2" x2="799.5" y2="175.2"/>
<line x1="795" y1="199.8" x2="799.5" y2="199.8"/>
<line x1="795" y1="224.5" x2="799.5" y2="224.5"/>
<line x1="795" y1="249.1" x2="799.5" y2="249.1"/>
<line x1="795" y1="273.8" x2="799.5" y2="273.8"/>
<line x1="795" y1="298.4" x2="799.5" y2="298.4"/>
</g>
<g font-family="Liberation Sans, sans-serif" font-size="7" font-weight="bold" fill="#333">
<text x="799.8" y="54.5">0.65</text>
<text x="799.8" y="79.1">0.585</text>
<text x="799.8" y="103.8">0.520</text>
<text x="799.8" y="128.4">0.455</text>
<text x="799.8" y="153.1">0.390</text>
<text x="799.8" y="177.7">0.325</text>
<text x="799.8" y="202.3">0.260</text>
<text x="799.8" y="227.0">0.195</text>
<text x="799.8" y="251.6">0.130</text>
<text x="799.8" y="276.3">0.066</text>
<text x="799.8" y="300.9">0.001</text>
</g>
<text x="786.3" y="39.3" font-family="Liberation Sans, sans-serif" font-size="7" font-weight="bold" fill="#333" textLength="55.7" lengthAdjust="spacingAndGlyphs">Particles VolFrac</text>
<g font-family="Liberation Serif, serif" font-size="11.6" fill="#222">
<text x="319.7" y="319.7" textLength="19.8" lengthAdjust="spacingAndGlyphs">30 s</text>
<text x="357.5" y="319.7" textLength="19.8" lengthAdjust="spacingAndGlyphs">35 s</text>
<text x="395.2" y="319.7" textLength="19.8" lengthAdjust="spacingAndGlyphs">40 s</text>
<text x="427.0" y="319.7" textLength="19.8" lengthAdjust="spacingAndGlyphs">45 s</text>
<text x="475.0" y="319.7" textLength="19.8" lengthAdjust="spacingAndGlyphs">30 s</text>
<text x="513.0" y="319.7" textLength="19.8" lengthAdjust="spacingAndGlyphs">35 s</text>
<text x="551.3" y="319.7" textLength="19.8" lengthAdjust="spacingAndGlyphs">40 s</text>
<text x="583.3" y="319.7" textLength="19.8" lengthAdjust="spacingAndGlyphs">45 s</text>
<text x="634.1" y="319.7" textLength="19.8" lengthAdjust="spacingAndGlyphs">30 s</text>
<text x="671.8" y="319.7" textLength="19.8" lengthAdjust="spacingAndGlyphs">35 s</text>
<text x="709.4" y="319.7" textLength="19.8" lengthAdjust="spacingAndGlyphs">40 s</text>
<text x="740.8" y="319.7" textLength="19.8" lengthAdjust="spacingAndGlyphs">45 s</text>
<text x="354.6" y="340" textLength="55.7" lengthAdjust="spacingAndGlyphs">(a) Wen-Yu</text>
<text x="499.5" y="340" textLength="77.5" lengthAdjust="spacingAndGlyphs">(b) 0.6*Wen-Yu</text>
<text x="671.2" y="340" textLength="51.4" lengthAdjust="spacingAndGlyphs">(c) EMMS</text>
</g>
</svg>
<div class="cap" style="left:84px;top:382.6px;">(a)&nbsp;<span class="cj">压力分布</span><span class="ret">↵</span></div>
<div class="cap" style="left:496px;top:382.6px;">(b)<span class="cj">颗粒浓度分布</span><span class="ret">↵</span></div>
</body></html>
